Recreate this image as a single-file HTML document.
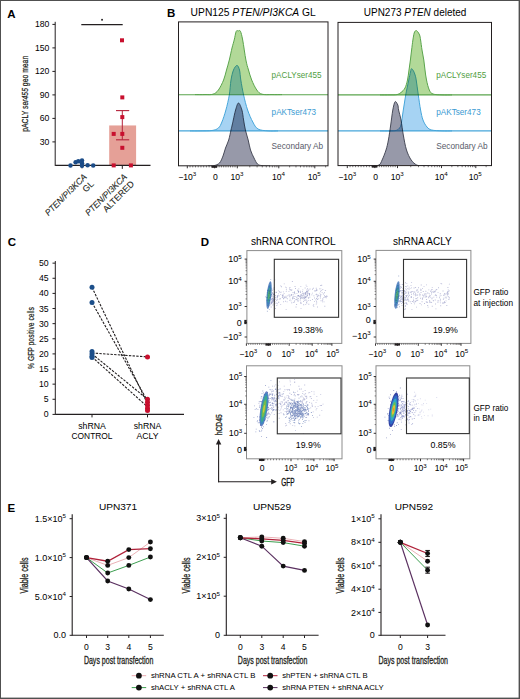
<!DOCTYPE html>
<html><head><meta charset="utf-8"><style>
html,body{margin:0;padding:0;background:#fff;}
svg{display:block;}
text{font-family:"Liberation Sans",sans-serif;}
</style></head><body>
<svg width="520" height="699" viewBox="0 0 520 699">
<rect width="520" height="699" fill="#fff"/>
<rect x="0" y="0" width="520" height="1" fill="#505050" />
<rect x="0" y="0" width="1" height="699" fill="#505050" />
<rect x="518.6" y="0" width="1.4" height="699" fill="#505050" />
<rect x="0" y="697.6" width="520" height="1.4" fill="#505050" />
<text x="7.3" y="17.6" font-size="11.5" font-weight="bold">A</text>
<line x1="55.2" y1="21.8" x2="55.2" y2="165.9" stroke="#231f20" stroke-width="1" />
<line x1="52.4" y1="141.9" x2="55.2" y2="141.9" stroke="#231f20" stroke-width="1" />
<text x="49.4" y="144.9" font-size="8.7" text-anchor="end">30</text>
<line x1="52.4" y1="118.4" x2="55.2" y2="118.4" stroke="#231f20" stroke-width="1" />
<text x="49.4" y="121.4" font-size="8.7" text-anchor="end">60</text>
<line x1="52.4" y1="94.9" x2="55.2" y2="94.9" stroke="#231f20" stroke-width="1" />
<text x="49.4" y="97.9" font-size="8.7" text-anchor="end">90</text>
<line x1="52.4" y1="71.4" x2="55.2" y2="71.4" stroke="#231f20" stroke-width="1" />
<text x="49.4" y="74.4" font-size="8.7" text-anchor="end">120</text>
<line x1="52.4" y1="47.9" x2="55.2" y2="47.9" stroke="#231f20" stroke-width="1" />
<text x="49.4" y="50.9" font-size="8.7" text-anchor="end">150</text>
<line x1="52.4" y1="24.4" x2="55.2" y2="24.4" stroke="#231f20" stroke-width="1" />
<text x="49.4" y="27.4" font-size="8.7" text-anchor="end">180</text>
<rect x="109.2" y="125.45" width="26.9" height="39.95" fill="#e5a097" />
<line x1="55.2" y1="165.4" x2="150.5" y2="165.4" stroke="#231f20" stroke-width="1.1" />
<line x1="82" y1="165.4" x2="82" y2="168.4" stroke="#231f20" stroke-width="1" />
<line x1="122.3" y1="165.4" x2="122.3" y2="168.9" stroke="#231f20" stroke-width="1" />
<line x1="81.3" y1="24.6" x2="122.7" y2="24.6" stroke="#231f20" stroke-width="1.1" />
<rect x="101.2" y="18.9" width="1.7" height="1.7" fill="#231f20" />
<line x1="122.3" y1="110.6" x2="122.3" y2="139.8" stroke="#b5223a" stroke-width="1" />
<line x1="116" y1="110.6" x2="129.2" y2="110.6" stroke="#b5223a" stroke-width="1.1" />
<line x1="116" y1="139.8" x2="129.2" y2="139.8" stroke="#b5223a" stroke-width="1.1" />
<rect x="120" y="38.3" width="4" height="4" fill="#c8102e" />
<rect x="120.3" y="95.4" width="4" height="4" fill="#c8102e" />
<rect x="120.3" y="115.1" width="4" height="4" fill="#c8102e" />
<rect x="111.7" y="131.9" width="4" height="4" fill="#c8102e" />
<rect x="120.3" y="131.9" width="4" height="4" fill="#c8102e" />
<rect x="120.3" y="145.8" width="4" height="4" fill="#c8102e" />
<rect x="111.7" y="163.4" width="4" height="4" fill="#c8102e" />
<rect x="128.9" y="163.4" width="4" height="4" fill="#c8102e" />
<circle cx="70.5" cy="165.6" r="2.25" fill="#1b4c88"/>
<circle cx="75.6" cy="162.2" r="2.25" fill="#1b4c88"/>
<circle cx="78.3" cy="161.3" r="2.25" fill="#1b4c88"/>
<circle cx="82" cy="160.6" r="2.25" fill="#1b4c88"/>
<circle cx="82" cy="163.3" r="2.25" fill="#1b4c88"/>
<circle cx="82" cy="165.8" r="2.25" fill="#1b4c88"/>
<circle cx="87.6" cy="165.2" r="2.25" fill="#1b4c88"/>
<circle cx="93.2" cy="165.6" r="2.25" fill="#1b4c88"/>
<text transform="translate(27.6,93.8) rotate(-90)" font-size="9.6" stroke="#231f20" stroke-width="0.25" text-anchor="middle" textLength="76" lengthAdjust="spacingAndGlyphs" fill="#231f20">pACLY <tspan font-style="italic">ser455</tspan> geo mean</text>
<g transform="translate(87.3,177.4) rotate(-45)"><text x="0" y="0" font-size="8.8" stroke="#231f20" stroke-width="0.12" text-anchor="end" font-style="italic" textLength="55" lengthAdjust="spacingAndGlyphs" fill="#231f20">PTEN/PI3KCA</text><text x="0" y="10" font-size="8.8" stroke="#231f20" stroke-width="0.12" text-anchor="end" fill="#231f20">GL</text></g>
<g transform="translate(127.6,177.4) rotate(-45)"><text x="0" y="0" font-size="8.8" stroke="#231f20" stroke-width="0.12" text-anchor="end" font-style="italic" textLength="55" lengthAdjust="spacingAndGlyphs" fill="#231f20">PTEN/PI3KCA</text><text x="0" y="10" font-size="8.8" stroke="#231f20" stroke-width="0.12" text-anchor="end" fill="#231f20">ALTERED</text></g>
<text x="166.9" y="17.3" font-size="11.5" font-weight="bold">B</text>
<text x="190.6" y="15.9" font-size="10.6" textLength="125.2" lengthAdjust="spacingAndGlyphs">UPN125 <tspan font-style="italic">PTEN/PI3KCA</tspan> GL</text>
<text x="363.8" y="15.9" font-size="10.6" textLength="102.5" lengthAdjust="spacingAndGlyphs">UPN273 <tspan font-style="italic">PTEN</tspan> deleted</text>
<clipPath id="cb0"><rect x="178.5" y="21.9" width="149.5" height="143.9"/></clipPath>
<g clip-path="url(#cb0)" style="isolation:isolate">
<g><path d="M195,94.6 C196.67,94.6 202,94.67 205,94.6 C208,94.53 210.77,94.97 213,94.2 C215.23,93.43 216.63,92.37 218.4,90 C220.17,87.63 222.25,83.33 223.6,80 C224.95,76.67 225.55,73.33 226.5,70 C227.45,66.67 228.38,63.67 229.3,60 C230.22,56.33 231.18,51.33 232,48 C232.82,44.67 233.5,42.77 234.2,40 C234.9,37.23 235.52,32.92 236.2,31.4 C236.88,29.88 237.6,30.93 238.3,30.9 C239,30.87 239.67,29.68 240.4,31.2 C241.13,32.72 241.78,35.2 242.7,40 C243.62,44.8 244.93,55 245.9,60 C246.87,65 247.53,66.67 248.5,70 C249.47,73.33 250.32,76.67 251.7,80 C253.08,83.33 255.08,87.63 256.8,90 C258.52,92.37 259.47,93.43 262,94.2 C264.53,94.97 268.67,94.53 272,94.6 C275.33,94.67 280.33,94.6 282,94.6 L282,94.7 L195,94.7 Z" fill="#b2d998" stroke="none"/><path d="M195,94.6 C196.67,94.6 202,94.67 205,94.6 C208,94.53 210.77,94.97 213,94.2 C215.23,93.43 216.63,92.37 218.4,90 C220.17,87.63 222.25,83.33 223.6,80 C224.95,76.67 225.55,73.33 226.5,70 C227.45,66.67 228.38,63.67 229.3,60 C230.22,56.33 231.18,51.33 232,48 C232.82,44.67 233.5,42.77 234.2,40 C234.9,37.23 235.52,32.92 236.2,31.4 C236.88,29.88 237.6,30.93 238.3,30.9 C239,30.87 239.67,29.68 240.4,31.2 C241.13,32.72 241.78,35.2 242.7,40 C243.62,44.8 244.93,55 245.9,60 C246.87,65 247.53,66.67 248.5,70 C249.47,73.33 250.32,76.67 251.7,80 C253.08,83.33 255.08,87.63 256.8,90 C258.52,92.37 259.47,93.43 262,94.2 C264.53,94.97 268.67,94.53 272,94.6 C275.33,94.67 280.33,94.6 282,94.6" fill="none" stroke="#5aa44c" stroke-width="1.0"/></g>
<line x1="178.5" y1="94.7" x2="328" y2="94.7" stroke="#5aa44c" stroke-width="1.1" />
<g style="mix-blend-mode:multiply"><path d="M190,130.9 C191.67,130.9 196.33,130.97 200,130.9 C203.67,130.83 208.93,130.98 212,130.5 C215.07,130.02 216.75,129.42 218.4,128 C220.05,126.58 220.65,125 221.9,122 C223.15,119 224.67,114.5 225.9,110 C227.13,105.5 228.45,100 229.3,95 C230.15,90 230.3,84.17 231,80 C231.7,75.83 232.5,72.43 233.5,70 C234.5,67.57 236,65.4 237,65.4 C238,65.4 238.87,67.57 239.5,70 C240.13,72.43 240.12,75.83 240.8,80 C241.48,84.17 242.47,90 243.6,95 C244.73,100 246.07,105.5 247.6,110 C249.13,114.5 251.07,118.83 252.8,122 C254.53,125.17 255.47,127.52 258,129 C260.53,130.48 264.67,130.58 268,130.9 C271.33,131.22 276.33,130.9 278,130.9 L278,130.9 L190,130.9 Z" fill="#a6d3f3" stroke="none"/><path d="M190,130.9 C191.67,130.9 196.33,130.97 200,130.9 C203.67,130.83 208.93,130.98 212,130.5 C215.07,130.02 216.75,129.42 218.4,128 C220.05,126.58 220.65,125 221.9,122 C223.15,119 224.67,114.5 225.9,110 C227.13,105.5 228.45,100 229.3,95 C230.15,90 230.3,84.17 231,80 C231.7,75.83 232.5,72.43 233.5,70 C234.5,67.57 236,65.4 237,65.4 C238,65.4 238.87,67.57 239.5,70 C240.13,72.43 240.12,75.83 240.8,80 C241.48,84.17 242.47,90 243.6,95 C244.73,100 246.07,105.5 247.6,110 C249.13,114.5 251.07,118.83 252.8,122 C254.53,125.17 255.47,127.52 258,129 C260.53,130.48 264.67,130.58 268,130.9 C271.33,131.22 276.33,130.9 278,130.9" fill="none" stroke="#46a6da" stroke-width="1.0"/></g>
<line x1="178.5" y1="130.9" x2="328" y2="130.9" stroke="#46a6da" stroke-width="1.1" />
<g style="mix-blend-mode:multiply"><path d="M208,165.8 C209,165.77 212.08,166.07 214,165.6 C215.92,165.13 218,164.6 219.5,163 C221,161.4 222,158.5 223,156 C224,153.5 224.55,150.67 225.5,148 C226.45,145.33 227.78,143 228.7,140 C229.62,137 230.42,132.5 231,130 C231.58,127.5 231.82,126.67 232.2,125 C232.58,123.33 232.73,122.5 233.3,120 C233.87,117.5 234.73,112.83 235.6,110 C236.47,107.17 237.45,103 238.5,103 C239.55,103 241.05,107.17 241.9,110 C242.75,112.83 243.02,116.67 243.6,120 C244.18,123.33 244.63,126.67 245.4,130 C246.17,133.33 247.35,136.67 248.2,140 C249.05,143.33 249.53,147 250.5,150 C251.47,153 252.83,155.67 254,158 C255.17,160.33 256.17,162.73 257.5,164 C258.83,165.27 259.92,165.3 262,165.6 C264.08,165.9 268.67,165.77 270,165.8 L270,165.8 L208,165.8 Z" fill="#9799a9" stroke="none"/><path d="M208,165.8 C209,165.77 212.08,166.07 214,165.6 C215.92,165.13 218,164.6 219.5,163 C221,161.4 222,158.5 223,156 C224,153.5 224.55,150.67 225.5,148 C226.45,145.33 227.78,143 228.7,140 C229.62,137 230.42,132.5 231,130 C231.58,127.5 231.82,126.67 232.2,125 C232.58,123.33 232.73,122.5 233.3,120 C233.87,117.5 234.73,112.83 235.6,110 C236.47,107.17 237.45,103 238.5,103 C239.55,103 241.05,107.17 241.9,110 C242.75,112.83 243.02,116.67 243.6,120 C244.18,123.33 244.63,126.67 245.4,130 C246.17,133.33 247.35,136.67 248.2,140 C249.05,143.33 249.53,147 250.5,150 C251.47,153 252.83,155.67 254,158 C255.17,160.33 256.17,162.73 257.5,164 C258.83,165.27 259.92,165.3 262,165.6 C264.08,165.9 268.67,165.77 270,165.8" fill="none" stroke="#3a3d4c" stroke-width="0.9"/></g>
</g>
<rect x="178.5" y="21.9" width="149.5" height="143.9" fill="none" stroke="#231f20" stroke-width="1" />
<text x="271.6" y="78.3" font-size="8.2" fill="#4f9e42" textLength="50" lengthAdjust="spacingAndGlyphs">pACLYser455</text>
<text x="271.6" y="115.3" font-size="8.2" fill="#3a9ad2" textLength="44.5" lengthAdjust="spacingAndGlyphs">pAKTser473</text>
<text x="271.6" y="148.6" font-size="8.2" fill="#585b6a" textLength="51.5" lengthAdjust="spacingAndGlyphs">Secondary Ab</text>
<line x1="187.3" y1="165.8" x2="187.3" y2="168.3" stroke="#231f20" stroke-width="0.9" />
<line x1="214.6" y1="165.8" x2="214.6" y2="168.3" stroke="#231f20" stroke-width="0.9" />
<line x1="237.3" y1="165.8" x2="237.3" y2="168.3" stroke="#231f20" stroke-width="0.9" />
<line x1="278.8" y1="165.8" x2="278.8" y2="168.3" stroke="#231f20" stroke-width="0.9" />
<line x1="314.8" y1="165.8" x2="314.8" y2="168.3" stroke="#231f20" stroke-width="0.9" />
<line x1="249.79" y1="165.8" x2="249.79" y2="167.4" stroke="#231f20" stroke-width="0.6" />
<line x1="289.64" y1="165.8" x2="289.64" y2="167.4" stroke="#231f20" stroke-width="0.6" />
<line x1="325.64" y1="165.8" x2="325.64" y2="167.4" stroke="#231f20" stroke-width="0.6" />
<line x1="257.1" y1="165.8" x2="257.1" y2="167.4" stroke="#231f20" stroke-width="0.6" />
<line x1="295.98" y1="165.8" x2="295.98" y2="167.4" stroke="#231f20" stroke-width="0.6" />
<line x1="262.29" y1="165.8" x2="262.29" y2="167.4" stroke="#231f20" stroke-width="0.6" />
<line x1="300.47" y1="165.8" x2="300.47" y2="167.4" stroke="#231f20" stroke-width="0.6" />
<line x1="266.31" y1="165.8" x2="266.31" y2="167.4" stroke="#231f20" stroke-width="0.6" />
<line x1="303.96" y1="165.8" x2="303.96" y2="167.4" stroke="#231f20" stroke-width="0.6" />
<line x1="269.59" y1="165.8" x2="269.59" y2="167.4" stroke="#231f20" stroke-width="0.6" />
<line x1="306.81" y1="165.8" x2="306.81" y2="167.4" stroke="#231f20" stroke-width="0.6" />
<line x1="272.37" y1="165.8" x2="272.37" y2="167.4" stroke="#231f20" stroke-width="0.6" />
<line x1="309.22" y1="165.8" x2="309.22" y2="167.4" stroke="#231f20" stroke-width="0.6" />
<line x1="274.78" y1="165.8" x2="274.78" y2="167.4" stroke="#231f20" stroke-width="0.6" />
<line x1="311.31" y1="165.8" x2="311.31" y2="167.4" stroke="#231f20" stroke-width="0.6" />
<line x1="276.9" y1="165.8" x2="276.9" y2="167.4" stroke="#231f20" stroke-width="0.6" />
<line x1="313.15" y1="165.8" x2="313.15" y2="167.4" stroke="#231f20" stroke-width="0.6" />
<line x1="190.03" y1="165.8" x2="190.03" y2="167.4" stroke="#231f20" stroke-width="0.6" />
<line x1="216.87" y1="165.8" x2="216.87" y2="167.4" stroke="#231f20" stroke-width="0.6" />
<line x1="192.76" y1="165.8" x2="192.76" y2="167.4" stroke="#231f20" stroke-width="0.6" />
<line x1="219.14" y1="165.8" x2="219.14" y2="167.4" stroke="#231f20" stroke-width="0.6" />
<line x1="195.49" y1="165.8" x2="195.49" y2="167.4" stroke="#231f20" stroke-width="0.6" />
<line x1="221.41" y1="165.8" x2="221.41" y2="167.4" stroke="#231f20" stroke-width="0.6" />
<line x1="198.22" y1="165.8" x2="198.22" y2="167.4" stroke="#231f20" stroke-width="0.6" />
<line x1="223.68" y1="165.8" x2="223.68" y2="167.4" stroke="#231f20" stroke-width="0.6" />
<line x1="200.95" y1="165.8" x2="200.95" y2="167.4" stroke="#231f20" stroke-width="0.6" />
<line x1="225.95" y1="165.8" x2="225.95" y2="167.4" stroke="#231f20" stroke-width="0.6" />
<line x1="203.68" y1="165.8" x2="203.68" y2="167.4" stroke="#231f20" stroke-width="0.6" />
<line x1="228.22" y1="165.8" x2="228.22" y2="167.4" stroke="#231f20" stroke-width="0.6" />
<line x1="206.41" y1="165.8" x2="206.41" y2="167.4" stroke="#231f20" stroke-width="0.6" />
<line x1="230.49" y1="165.8" x2="230.49" y2="167.4" stroke="#231f20" stroke-width="0.6" />
<line x1="209.14" y1="165.8" x2="209.14" y2="167.4" stroke="#231f20" stroke-width="0.6" />
<line x1="232.76" y1="165.8" x2="232.76" y2="167.4" stroke="#231f20" stroke-width="0.6" />
<line x1="211.87" y1="165.8" x2="211.87" y2="167.4" stroke="#231f20" stroke-width="0.6" />
<line x1="235.03" y1="165.8" x2="235.03" y2="167.4" stroke="#231f20" stroke-width="0.6" />
<rect x="211.6" y="165.8" width="5.5" height="2" fill="#231f20" />
<text x="187.3" y="179.7" font-size="8.6" text-anchor="middle">−10<tspan font-size="6.2" dy="-3.5">3</tspan></text>
<text x="215.4" y="179.7" font-size="8.6" text-anchor="middle">0</text>
<text x="237" y="179.7" font-size="8.6" text-anchor="middle">10<tspan font-size="6.2" dy="-3.5">3</tspan></text>
<text x="278.5" y="179.7" font-size="8.6" text-anchor="middle">10<tspan font-size="6.2" dy="-3.5">4</tspan></text>
<text x="314.3" y="179.7" font-size="8.6" text-anchor="middle">10<tspan font-size="6.2" dy="-3.5">5</tspan></text>
<clipPath id="cb1"><rect x="338" y="22.4" width="153.5" height="143.2"/></clipPath>
<g clip-path="url(#cb1)" style="isolation:isolate">
<g><path d="M380,94.9 C381.67,94.9 387.17,94.95 390,94.9 C392.83,94.85 395.17,95 397,94.6 C398.83,94.2 399.67,93.6 401,92.5 C402.33,91.4 403.92,90.08 405,88 C406.08,85.92 406.83,83 407.5,80 C408.17,77 408.52,73.33 409,70 C409.48,66.67 409.97,63.33 410.4,60 C410.83,56.67 411.18,53.33 411.6,50 C412.02,46.67 412.47,42.83 412.9,40 C413.33,37.17 413.72,34.57 414.2,33 C414.68,31.43 415.25,30.85 415.8,30.6 C416.35,30.35 416.87,30.77 417.5,31.5 C418.13,32.23 419.08,33.58 419.6,35 C420.12,36.42 420.2,37.5 420.6,40 C421,42.5 421.47,46.67 422,50 C422.53,53.33 423.3,56.67 423.8,60 C424.3,63.33 424.55,66.67 425,70 C425.45,73.33 425.78,76.67 426.5,80 C427.22,83.33 428.22,87.67 429.3,90 C430.38,92.33 430.88,93.18 433,94 C435.12,94.82 438.83,94.75 442,94.9 C445.17,95.05 450.33,94.9 452,94.9 L452,94.9 L380,94.9 Z" fill="#b2d998" stroke="none"/><path d="M380,94.9 C381.67,94.9 387.17,94.95 390,94.9 C392.83,94.85 395.17,95 397,94.6 C398.83,94.2 399.67,93.6 401,92.5 C402.33,91.4 403.92,90.08 405,88 C406.08,85.92 406.83,83 407.5,80 C408.17,77 408.52,73.33 409,70 C409.48,66.67 409.97,63.33 410.4,60 C410.83,56.67 411.18,53.33 411.6,50 C412.02,46.67 412.47,42.83 412.9,40 C413.33,37.17 413.72,34.57 414.2,33 C414.68,31.43 415.25,30.85 415.8,30.6 C416.35,30.35 416.87,30.77 417.5,31.5 C418.13,32.23 419.08,33.58 419.6,35 C420.12,36.42 420.2,37.5 420.6,40 C421,42.5 421.47,46.67 422,50 C422.53,53.33 423.3,56.67 423.8,60 C424.3,63.33 424.55,66.67 425,70 C425.45,73.33 425.78,76.67 426.5,80 C427.22,83.33 428.22,87.67 429.3,90 C430.38,92.33 430.88,93.18 433,94 C435.12,94.82 438.83,94.75 442,94.9 C445.17,95.05 450.33,94.9 452,94.9" fill="none" stroke="#5aa44c" stroke-width="1.0"/></g>
<line x1="338" y1="94.9" x2="491.5" y2="94.9" stroke="#5aa44c" stroke-width="1.1" />
<g style="mix-blend-mode:multiply"><path d="M380,130.9 C381.67,130.9 387.33,130.97 390,130.9 C392.67,130.83 394.5,130.9 396,130.5 C397.5,130.1 398.17,129.42 399,128.5 C399.83,127.58 400.28,128.08 401,125 C401.72,121.92 402.52,115 403.3,110 C404.08,105 404.78,100 405.7,95 C406.62,90 408,83.83 408.8,80 C409.6,76.17 410.05,73.88 410.5,72 C410.95,70.12 411,68.87 411.5,68.7 C412,68.53 412.9,69.95 413.5,71 C414.1,72.05 414.65,73.5 415.1,75 C415.55,76.5 415.67,76.67 416.2,80 C416.73,83.33 417.57,90 418.3,95 C419.03,100 419.82,105.83 420.6,110 C421.38,114.17 421.93,117.17 423,120 C424.07,122.83 425.55,125.33 427,127 C428.45,128.67 429.2,129.35 431.7,130 C434.2,130.65 438.62,130.75 442,130.9 C445.38,131.05 450.33,130.9 452,130.9 L452,130.9 L380,130.9 Z" fill="#a6d3f3" stroke="none"/><path d="M380,130.9 C381.67,130.9 387.33,130.97 390,130.9 C392.67,130.83 394.5,130.9 396,130.5 C397.5,130.1 398.17,129.42 399,128.5 C399.83,127.58 400.28,128.08 401,125 C401.72,121.92 402.52,115 403.3,110 C404.08,105 404.78,100 405.7,95 C406.62,90 408,83.83 408.8,80 C409.6,76.17 410.05,73.88 410.5,72 C410.95,70.12 411,68.87 411.5,68.7 C412,68.53 412.9,69.95 413.5,71 C414.1,72.05 414.65,73.5 415.1,75 C415.55,76.5 415.67,76.67 416.2,80 C416.73,83.33 417.57,90 418.3,95 C419.03,100 419.82,105.83 420.6,110 C421.38,114.17 421.93,117.17 423,120 C424.07,122.83 425.55,125.33 427,127 C428.45,128.67 429.2,129.35 431.7,130 C434.2,130.65 438.62,130.75 442,130.9 C445.38,131.05 450.33,130.9 452,130.9" fill="none" stroke="#46a6da" stroke-width="1.0"/></g>
<line x1="338" y1="130.9" x2="491.5" y2="130.9" stroke="#46a6da" stroke-width="1.1" />
<g style="mix-blend-mode:multiply"><path d="M365,165.8 C366.17,165.77 369.67,165.73 372,165.6 C374.33,165.47 377.32,165.93 379,165 C380.68,164.07 380.93,162.5 382.1,160 C383.27,157.5 384.95,153.33 386,150 C387.05,146.67 387.62,144.17 388.4,140 C389.18,135.83 389.97,130 390.7,125 C391.43,120 392.07,113.88 392.8,110 C393.53,106.12 394.27,102.53 395.1,101.7 C395.93,100.87 397.22,103.62 397.8,105 C398.38,106.38 398.07,107.5 398.6,110 C399.13,112.5 400.22,115.83 401,120 C401.78,124.17 402.38,130 403.3,135 C404.22,140 405.18,145.83 406.5,150 C407.82,154.17 409.5,157.5 411.2,160 C412.9,162.5 414.9,164.07 416.7,165 C418.5,165.93 419.78,165.47 422,165.6 C424.22,165.73 428.67,165.77 430,165.8 L430,165.6 L365,165.6 Z" fill="#9799a9" stroke="none"/><path d="M365,165.8 C366.17,165.77 369.67,165.73 372,165.6 C374.33,165.47 377.32,165.93 379,165 C380.68,164.07 380.93,162.5 382.1,160 C383.27,157.5 384.95,153.33 386,150 C387.05,146.67 387.62,144.17 388.4,140 C389.18,135.83 389.97,130 390.7,125 C391.43,120 392.07,113.88 392.8,110 C393.53,106.12 394.27,102.53 395.1,101.7 C395.93,100.87 397.22,103.62 397.8,105 C398.38,106.38 398.07,107.5 398.6,110 C399.13,112.5 400.22,115.83 401,120 C401.78,124.17 402.38,130 403.3,135 C404.22,140 405.18,145.83 406.5,150 C407.82,154.17 409.5,157.5 411.2,160 C412.9,162.5 414.9,164.07 416.7,165 C418.5,165.93 419.78,165.47 422,165.6 C424.22,165.73 428.67,165.77 430,165.8" fill="none" stroke="#3a3d4c" stroke-width="0.9"/></g>
</g>
<rect x="338" y="22.4" width="153.5" height="143.2" fill="none" stroke="#231f20" stroke-width="1" />
<text x="436.2" y="78.3" font-size="8.2" fill="#4f9e42" textLength="50" lengthAdjust="spacingAndGlyphs">pACLYser455</text>
<text x="436.2" y="115.3" font-size="8.2" fill="#3a9ad2" textLength="44.5" lengthAdjust="spacingAndGlyphs">pAKTser473</text>
<text x="436.2" y="148.6" font-size="8.2" fill="#585b6a" textLength="51.5" lengthAdjust="spacingAndGlyphs">Secondary Ab</text>
<line x1="347.3" y1="165.6" x2="347.3" y2="168.1" stroke="#231f20" stroke-width="0.9" />
<line x1="374.8" y1="165.6" x2="374.8" y2="168.1" stroke="#231f20" stroke-width="0.9" />
<line x1="397.5" y1="165.6" x2="397.5" y2="168.1" stroke="#231f20" stroke-width="0.9" />
<line x1="441.5" y1="165.6" x2="441.5" y2="168.1" stroke="#231f20" stroke-width="0.9" />
<line x1="475.8" y1="165.6" x2="475.8" y2="168.1" stroke="#231f20" stroke-width="0.9" />
<line x1="410.75" y1="165.6" x2="410.75" y2="167.2" stroke="#231f20" stroke-width="0.6" />
<line x1="451.83" y1="165.6" x2="451.83" y2="167.2" stroke="#231f20" stroke-width="0.6" />
<line x1="486.13" y1="165.6" x2="486.13" y2="167.2" stroke="#231f20" stroke-width="0.6" />
<line x1="418.49" y1="165.6" x2="418.49" y2="167.2" stroke="#231f20" stroke-width="0.6" />
<line x1="457.87" y1="165.6" x2="457.87" y2="167.2" stroke="#231f20" stroke-width="0.6" />
<line x1="423.99" y1="165.6" x2="423.99" y2="167.2" stroke="#231f20" stroke-width="0.6" />
<line x1="462.15" y1="165.6" x2="462.15" y2="167.2" stroke="#231f20" stroke-width="0.6" />
<line x1="428.25" y1="165.6" x2="428.25" y2="167.2" stroke="#231f20" stroke-width="0.6" />
<line x1="465.47" y1="165.6" x2="465.47" y2="167.2" stroke="#231f20" stroke-width="0.6" />
<line x1="431.74" y1="165.6" x2="431.74" y2="167.2" stroke="#231f20" stroke-width="0.6" />
<line x1="468.19" y1="165.6" x2="468.19" y2="167.2" stroke="#231f20" stroke-width="0.6" />
<line x1="434.68" y1="165.6" x2="434.68" y2="167.2" stroke="#231f20" stroke-width="0.6" />
<line x1="470.49" y1="165.6" x2="470.49" y2="167.2" stroke="#231f20" stroke-width="0.6" />
<line x1="437.24" y1="165.6" x2="437.24" y2="167.2" stroke="#231f20" stroke-width="0.6" />
<line x1="472.48" y1="165.6" x2="472.48" y2="167.2" stroke="#231f20" stroke-width="0.6" />
<line x1="439.49" y1="165.6" x2="439.49" y2="167.2" stroke="#231f20" stroke-width="0.6" />
<line x1="474.23" y1="165.6" x2="474.23" y2="167.2" stroke="#231f20" stroke-width="0.6" />
<line x1="350.05" y1="165.6" x2="350.05" y2="167.2" stroke="#231f20" stroke-width="0.6" />
<line x1="377.07" y1="165.6" x2="377.07" y2="167.2" stroke="#231f20" stroke-width="0.6" />
<line x1="352.8" y1="165.6" x2="352.8" y2="167.2" stroke="#231f20" stroke-width="0.6" />
<line x1="379.34" y1="165.6" x2="379.34" y2="167.2" stroke="#231f20" stroke-width="0.6" />
<line x1="355.55" y1="165.6" x2="355.55" y2="167.2" stroke="#231f20" stroke-width="0.6" />
<line x1="381.61" y1="165.6" x2="381.61" y2="167.2" stroke="#231f20" stroke-width="0.6" />
<line x1="358.3" y1="165.6" x2="358.3" y2="167.2" stroke="#231f20" stroke-width="0.6" />
<line x1="383.88" y1="165.6" x2="383.88" y2="167.2" stroke="#231f20" stroke-width="0.6" />
<line x1="361.05" y1="165.6" x2="361.05" y2="167.2" stroke="#231f20" stroke-width="0.6" />
<line x1="386.15" y1="165.6" x2="386.15" y2="167.2" stroke="#231f20" stroke-width="0.6" />
<line x1="363.8" y1="165.6" x2="363.8" y2="167.2" stroke="#231f20" stroke-width="0.6" />
<line x1="388.42" y1="165.6" x2="388.42" y2="167.2" stroke="#231f20" stroke-width="0.6" />
<line x1="366.55" y1="165.6" x2="366.55" y2="167.2" stroke="#231f20" stroke-width="0.6" />
<line x1="390.69" y1="165.6" x2="390.69" y2="167.2" stroke="#231f20" stroke-width="0.6" />
<line x1="369.3" y1="165.6" x2="369.3" y2="167.2" stroke="#231f20" stroke-width="0.6" />
<line x1="392.96" y1="165.6" x2="392.96" y2="167.2" stroke="#231f20" stroke-width="0.6" />
<line x1="372.05" y1="165.6" x2="372.05" y2="167.2" stroke="#231f20" stroke-width="0.6" />
<line x1="395.23" y1="165.6" x2="395.23" y2="167.2" stroke="#231f20" stroke-width="0.6" />
<rect x="371.8" y="165.6" width="5.5" height="2" fill="#231f20" />
<text x="347.3" y="179.7" font-size="8.6" text-anchor="middle">−10<tspan font-size="6.2" dy="-3.5">3</tspan></text>
<text x="375.6" y="179.7" font-size="8.6" text-anchor="middle">0</text>
<text x="397.2" y="179.7" font-size="8.6" text-anchor="middle">10<tspan font-size="6.2" dy="-3.5">3</tspan></text>
<text x="441.2" y="179.7" font-size="8.6" text-anchor="middle">10<tspan font-size="6.2" dy="-3.5">4</tspan></text>
<text x="475.3" y="179.7" font-size="8.6" text-anchor="middle">10<tspan font-size="6.2" dy="-3.5">5</tspan></text>
<text x="7.7" y="246.3" font-size="11.5" font-weight="bold">C</text>
<line x1="55.3" y1="261" x2="55.3" y2="414.9" stroke="#231f20" stroke-width="1" />
<line x1="52.5" y1="414.4" x2="55.3" y2="414.4" stroke="#231f20" stroke-width="1" />
<text x="48.6" y="417.4" font-size="8.7" text-anchor="end">0</text>
<line x1="52.5" y1="399.27" x2="55.3" y2="399.27" stroke="#231f20" stroke-width="1" />
<text x="48.6" y="402.27" font-size="8.7" text-anchor="end">5</text>
<line x1="52.5" y1="384.15" x2="55.3" y2="384.15" stroke="#231f20" stroke-width="1" />
<text x="48.6" y="387.15" font-size="8.7" text-anchor="end">10</text>
<line x1="52.5" y1="369.02" x2="55.3" y2="369.02" stroke="#231f20" stroke-width="1" />
<text x="48.6" y="372.02" font-size="8.7" text-anchor="end">15</text>
<line x1="52.5" y1="353.9" x2="55.3" y2="353.9" stroke="#231f20" stroke-width="1" />
<text x="48.6" y="356.9" font-size="8.7" text-anchor="end">20</text>
<line x1="52.5" y1="338.77" x2="55.3" y2="338.77" stroke="#231f20" stroke-width="1" />
<text x="48.6" y="341.77" font-size="8.7" text-anchor="end">25</text>
<line x1="52.5" y1="323.65" x2="55.3" y2="323.65" stroke="#231f20" stroke-width="1" />
<text x="48.6" y="326.65" font-size="8.7" text-anchor="end">30</text>
<line x1="52.5" y1="308.52" x2="55.3" y2="308.52" stroke="#231f20" stroke-width="1" />
<text x="48.6" y="311.52" font-size="8.7" text-anchor="end">35</text>
<line x1="52.5" y1="293.4" x2="55.3" y2="293.4" stroke="#231f20" stroke-width="1" />
<text x="48.6" y="296.4" font-size="8.7" text-anchor="end">40</text>
<line x1="52.5" y1="278.27" x2="55.3" y2="278.27" stroke="#231f20" stroke-width="1" />
<text x="48.6" y="281.27" font-size="8.7" text-anchor="end">45</text>
<line x1="52.5" y1="263.15" x2="55.3" y2="263.15" stroke="#231f20" stroke-width="1" />
<text x="48.6" y="266.15" font-size="8.7" text-anchor="end">50</text>
<line x1="55.3" y1="414.4" x2="184" y2="414.4" stroke="#231f20" stroke-width="1.1" />
<line x1="92" y1="414.4" x2="92" y2="417.4" stroke="#231f20" stroke-width="1" />
<line x1="147.5" y1="414.4" x2="147.5" y2="417.4" stroke="#231f20" stroke-width="1" />
<line x1="92" y1="287.35" x2="147.5" y2="403.81" stroke="#231f20" stroke-width="1.1" stroke-dasharray="2.4,1.3"/>
<line x1="92" y1="302.47" x2="147.5" y2="400.79" stroke="#231f20" stroke-width="1.1" stroke-dasharray="2.4,1.3"/>
<line x1="92" y1="352.99" x2="147.5" y2="356.92" stroke="#231f20" stroke-width="1.1" stroke-dasharray="2.4,1.3"/>
<line x1="92" y1="353.9" x2="147.5" y2="399.27" stroke="#231f20" stroke-width="1.1" stroke-dasharray="2.4,1.3"/>
<line x1="92" y1="356.92" x2="147.5" y2="406.84" stroke="#231f20" stroke-width="1.1" stroke-dasharray="2.4,1.3"/>
<circle cx="92" cy="287.35" r="2.5" fill="#1c4f8a"/>
<circle cx="92" cy="302.47" r="2.5" fill="#1c4f8a"/>
<circle cx="92" cy="351.48" r="2.5" fill="#1c4f8a"/>
<circle cx="92" cy="353.9" r="2.5" fill="#1c4f8a"/>
<circle cx="92" cy="356.32" r="2.5" fill="#1c4f8a"/>
<circle cx="92" cy="357.53" r="2.5" fill="#1c4f8a"/>
<circle cx="147.5" cy="356.92" r="2.5" fill="#c8102e"/>
<circle cx="147.5" cy="399.27" r="2.5" fill="#c8102e"/>
<circle cx="147.5" cy="402.3" r="2.5" fill="#c8102e"/>
<circle cx="147.5" cy="405.32" r="2.5" fill="#c8102e"/>
<circle cx="147.5" cy="408.35" r="2.5" fill="#c8102e"/>
<circle cx="147.5" cy="410.47" r="2.5" fill="#c8102e"/>
<text x="92" y="429" font-size="8.7" text-anchor="middle">shRNA</text>
<text x="92" y="439" font-size="8.7" text-anchor="middle" textLength="41" lengthAdjust="spacingAndGlyphs">CONTROL</text>
<text x="147.5" y="429" font-size="8.7" text-anchor="middle">shRNA</text>
<text x="147.5" y="439" font-size="8.7" text-anchor="middle">ACLY</text>
<text transform="translate(33.6,338) rotate(-90)" font-size="9.8" stroke="#231f20" stroke-width="0.22" text-anchor="middle" textLength="62" lengthAdjust="spacingAndGlyphs" fill="#231f20">% GFP positive cells</text>
<text x="200.8" y="246.3" font-size="11.5" font-weight="bold">D</text>
<text x="251" y="244.9" font-size="10.5" textLength="84.6" lengthAdjust="spacingAndGlyphs">shRNA CONTROL</text>
<text x="392.9" y="244.9" font-size="10.6" textLength="58.8" lengthAdjust="spacingAndGlyphs">shRNA ACLY</text>
<path d="M306.4 291.9h0.85v0.85h-0.85zM321.3 290.0h0.85v0.85h-0.85zM314.7 290.6h0.85v0.85h-0.85zM284.4 296.6h0.85v0.85h-0.85zM288.5 291.2h0.85v0.85h-0.85zM320.0 297.5h0.85v0.85h-0.85zM272.3 297.4h0.85v0.85h-0.85zM317.2 306.6h0.85v0.85h-0.85zM315.8 287.8h0.85v0.85h-0.85zM297.7 300.4h0.85v0.85h-0.85zM288.7 295.0h0.85v0.85h-0.85zM287.3 295.4h0.85v0.85h-0.85zM286.0 287.5h0.85v0.85h-0.85zM296.5 293.0h0.85v0.85h-0.85zM299.8 299.6h0.85v0.85h-0.85zM302.4 295.0h0.85v0.85h-0.85zM326.8 295.9h0.85v0.85h-0.85zM315.6 293.9h0.85v0.85h-0.85zM306.2 301.9h0.85v0.85h-0.85zM326.4 295.4h0.85v0.85h-0.85zM283.8 283.4h0.85v0.85h-0.85zM280.8 291.7h0.85v0.85h-0.85zM305.7 284.7h0.85v0.85h-0.85zM274.4 279.5h0.85v0.85h-0.85zM274.0 292.6h0.85v0.85h-0.85zM300.3 302.8h0.85v0.85h-0.85zM297.6 295.8h0.85v0.85h-0.85zM322.4 289.1h0.85v0.85h-0.85zM306.6 290.3h0.85v0.85h-0.85zM300.3 301.7h0.85v0.85h-0.85zM299.3 296.4h0.85v0.85h-0.85zM285.6 295.8h0.85v0.85h-0.85zM272.6 295.2h0.85v0.85h-0.85zM282.6 295.7h0.85v0.85h-0.85zM310.1 299.9h0.85v0.85h-0.85zM283.0 298.5h0.85v0.85h-0.85zM292.3 296.7h0.85v0.85h-0.85zM272.2 289.8h0.85v0.85h-0.85zM317.7 298.3h0.85v0.85h-0.85zM280.5 291.7h0.85v0.85h-0.85zM286.7 301.5h0.85v0.85h-0.85zM320.4 288.5h0.85v0.85h-0.85zM300.0 294.7h0.85v0.85h-0.85zM318.6 295.5h0.85v0.85h-0.85zM307.2 288.2h0.85v0.85h-0.85zM312.8 305.0h0.85v0.85h-0.85zM277.0 303.5h0.85v0.85h-0.85zM301.8 293.0h0.85v0.85h-0.85zM299.9 299.7h0.85v0.85h-0.85zM319.9 297.6h0.85v0.85h-0.85zM291.9 281.1h0.85v0.85h-0.85zM304.9 296.9h0.85v0.85h-0.85zM275.3 295.2h0.85v0.85h-0.85zM293.3 296.0h0.85v0.85h-0.85zM289.8 289.6h0.85v0.85h-0.85zM280.3 294.0h0.85v0.85h-0.85zM316.9 294.5h0.85v0.85h-0.85zM292.9 302.0h0.85v0.85h-0.85zM325.8 297.3h0.85v0.85h-0.85zM304.4 295.5h0.85v0.85h-0.85zM305.3 303.9h0.85v0.85h-0.85zM307.1 292.4h0.85v0.85h-0.85zM309.2 293.4h0.85v0.85h-0.85zM280.3 285.5h0.85v0.85h-0.85zM296.2 304.1h0.85v0.85h-0.85zM285.2 300.8h0.85v0.85h-0.85zM294.1 300.5h0.85v0.85h-0.85zM277.3 299.2h0.85v0.85h-0.85zM325.2 296.1h0.85v0.85h-0.85zM283.8 296.7h0.85v0.85h-0.85zM308.9 294.1h0.85v0.85h-0.85zM288.5 294.4h0.85v0.85h-0.85zM320.1 295.8h0.85v0.85h-0.85zM308.4 303.8h0.85v0.85h-0.85zM279.2 298.6h0.85v0.85h-0.85zM318.5 295.2h0.85v0.85h-0.85zM324.0 292.3h0.85v0.85h-0.85zM321.7 292.0h0.85v0.85h-0.85zM303.3 304.3h0.85v0.85h-0.85zM280.0 298.3h0.85v0.85h-0.85zM282.6 295.9h0.85v0.85h-0.85zM323.0 293.6h0.85v0.85h-0.85zM302.4 289.4h0.85v0.85h-0.85zM281.9 295.1h0.85v0.85h-0.85zM320.6 300.3h0.85v0.85h-0.85zM307.3 293.3h0.85v0.85h-0.85zM303.3 294.3h0.85v0.85h-0.85zM292.7 294.3h0.85v0.85h-0.85zM294.6 296.1h0.85v0.85h-0.85zM285.2 286.7h0.85v0.85h-0.85zM274.1 294.2h0.85v0.85h-0.85zM320.2 290.8h0.85v0.85h-0.85zM297.7 300.4h0.85v0.85h-0.85zM302.1 291.3h0.85v0.85h-0.85zM289.7 298.7h0.85v0.85h-0.85zM313.3 303.9h0.85v0.85h-0.85zM273.4 293.8h0.85v0.85h-0.85zM292.5 292.2h0.85v0.85h-0.85zM273.7 296.6h0.85v0.85h-0.85zM278.8 295.5h0.85v0.85h-0.85zM325.2 290.0h0.85v0.85h-0.85zM308.2 298.0h0.85v0.85h-0.85zM295.6 306.6h0.85v0.85h-0.85zM300.8 294.1h0.85v0.85h-0.85zM320.0 294.4h0.85v0.85h-0.85zM290.9 289.8h0.85v0.85h-0.85zM304.5 297.3h0.85v0.85h-0.85zM309.6 288.6h0.85v0.85h-0.85zM291.5 289.4h0.85v0.85h-0.85zM300.6 302.5h0.85v0.85h-0.85zM314.1 290.5h0.85v0.85h-0.85zM322.0 301.4h0.85v0.85h-0.85zM280.3 303.9h0.85v0.85h-0.85zM323.3 296.9h0.85v0.85h-0.85zM272.3 298.5h0.85v0.85h-0.85zM313.4 306.2h0.85v0.85h-0.85zM316.6 294.4h0.85v0.85h-0.85zM279.5 292.2h0.85v0.85h-0.85zM295.0 288.1h0.85v0.85h-0.85zM316.8 295.7h0.85v0.85h-0.85zM272.8 303.6h0.85v0.85h-0.85zM306.6 300.8h0.85v0.85h-0.85zM315.6 290.3h0.85v0.85h-0.85zM300.2 290.8h0.85v0.85h-0.85zM311.9 292.7h0.85v0.85h-0.85zM284.5 297.1h0.85v0.85h-0.85zM282.9 294.4h0.85v0.85h-0.85zM292.0 296.7h0.85v0.85h-0.85zM281.9 297.1h0.85v0.85h-0.85zM291.0 293.9h0.85v0.85h-0.85zM324.1 295.3h0.85v0.85h-0.85zM303.5 296.6h0.85v0.85h-0.85zM290.7 295.0h0.85v0.85h-0.85zM286.9 298.3h0.85v0.85h-0.85zM324.4 305.8h0.85v0.85h-0.85zM296.4 298.8h0.85v0.85h-0.85zM325.9 295.8h0.85v0.85h-0.85zM300.4 286.2h0.85v0.85h-0.85zM300.7 297.6h0.85v0.85h-0.85zM321.3 284.8h0.85v0.85h-0.85zM312.9 287.8h0.85v0.85h-0.85zM303.9 300.2h0.85v0.85h-0.85zM295.5 299.4h0.85v0.85h-0.85zM320.3 294.7h0.85v0.85h-0.85zM294.6 286.1h0.85v0.85h-0.85zM322.8 293.5h0.85v0.85h-0.85zM275.8 291.8h0.85v0.85h-0.85zM295.6 299.0h0.85v0.85h-0.85zM300.6 307.9h0.85v0.85h-0.85zM324.3 296.7h0.85v0.85h-0.85zM285.8 291.2h0.85v0.85h-0.85zM316.3 289.1h0.85v0.85h-0.85zM309.2 295.2h0.85v0.85h-0.85zM311.4 294.5h0.85v0.85h-0.85zM306.6 289.2h0.85v0.85h-0.85zM325.4 296.1h0.85v0.85h-0.85zM290.3 289.2h0.85v0.85h-0.85zM293.9 301.6h0.85v0.85h-0.85zM283.2 301.3h0.85v0.85h-0.85zM274.8 301.5h0.85v0.85h-0.85zM283.7 292.9h0.85v0.85h-0.85zM322.4 298.3h0.85v0.85h-0.85zM318.2 294.8h0.85v0.85h-0.85zM278.2 293.4h0.85v0.85h-0.85zM305.2 293.6h0.85v0.85h-0.85zM298.4 288.4h0.85v0.85h-0.85zM304.7 287.6h0.85v0.85h-0.85zM308.3 299.9h0.85v0.85h-0.85zM288.9 294.4h0.85v0.85h-0.85zM324.9 296.7h0.85v0.85h-0.85zM297.6 301.0h0.85v0.85h-0.85zM306.5 286.0h0.85v0.85h-0.85zM306.9 291.2h0.85v0.85h-0.85zM282.1 296.5h0.85v0.85h-0.85zM275.4 297.7h0.85v0.85h-0.85zM294.6 293.4h0.85v0.85h-0.85zM314.0 301.2h0.85v0.85h-0.85zM316.8 296.7h0.85v0.85h-0.85zM312.1 288.8h0.85v0.85h-0.85zM278.2 290.4h0.85v0.85h-0.85zM322.2 299.9h0.85v0.85h-0.85zM316.1 298.1h0.85v0.85h-0.85zM320.3 285.1h0.85v0.85h-0.85zM300.8 302.9h0.85v0.85h-0.85zM322.4 298.8h0.85v0.85h-0.85zM274.6 302.9h0.85v0.85h-0.85zM273.7 293.4h0.85v0.85h-0.85zM273.1 293.9h0.85v0.85h-0.85zM285.9 289.3h0.85v0.85h-0.85zM285.7 309.0h0.85v0.85h-0.85zM282.3 294.5h0.85v0.85h-0.85zM303.2 304.2h0.85v0.85h-0.85zM274.1 291.9h0.85v0.85h-0.85zM304.5 296.4h0.85v0.85h-0.85zM281.1 286.3h0.85v0.85h-0.85zM309.3 293.4h0.85v0.85h-0.85zM273.2 300.9h0.85v0.85h-0.85zM289.1 288.6h0.85v0.85h-0.85zM323.6 301.4h0.85v0.85h-0.85zM301.6 297.4h0.85v0.85h-0.85zM316.6 289.8h0.85v0.85h-0.85zM308.2 292.7h0.85v0.85h-0.85zM305.6 293.0h0.85v0.85h-0.85zM282.5 295.2h0.85v0.85h-0.85zM303.6 292.6h0.85v0.85h-0.85zM274.2 290.9h0.85v0.85h-0.85zM316.1 293.8h0.85v0.85h-0.85zM324.8 289.9h0.85v0.85h-0.85zM319.0 288.4h0.85v0.85h-0.85zM274.8 295.2h0.85v0.85h-0.85zM290.6 300.4h0.85v0.85h-0.85zM289.5 287.1h0.85v0.85h-0.85zM278.2 295.5h0.85v0.85h-0.85zM306.5 291.9h0.85v0.85h-0.85zM315.9 290.1h0.85v0.85h-0.85zM289.3 300.2h0.85v0.85h-0.85zM319.5 292.7h0.85v0.85h-0.85zM315.8 303.7h0.85v0.85h-0.85zM279.1 291.2h0.85v0.85h-0.85zM314.2 297.6h0.85v0.85h-0.85zM320.5 294.2h0.85v0.85h-0.85zM282.9 291.4h0.85v0.85h-0.85zM303.6 298.7h0.85v0.85h-0.85zM307.1 294.6h0.85v0.85h-0.85zM305.5 298.8h0.85v0.85h-0.85zM277.3 295.2h0.85v0.85h-0.85zM308.4 289.5h0.85v0.85h-0.85zM306.8 294.9h0.85v0.85h-0.85zM317.3 295.8h0.85v0.85h-0.85zM316.2 300.8h0.85v0.85h-0.85z" fill="#4a4f9c" fill-opacity="0.42"/>
<path d="M298.7 295.9h0.85v0.85h-0.85zM292.2 298.3h0.85v0.85h-0.85zM297.3 289.7h0.85v0.85h-0.85zM305.5 299.9h0.85v0.85h-0.85zM293.8 292.2h0.85v0.85h-0.85zM300.1 292.0h0.85v0.85h-0.85zM309.0 293.2h0.85v0.85h-0.85zM300.2 298.0h0.85v0.85h-0.85zM300.0 297.5h0.85v0.85h-0.85zM298.2 291.8h0.85v0.85h-0.85zM291.3 302.5h0.85v0.85h-0.85zM303.4 296.9h0.85v0.85h-0.85zM305.8 296.6h0.85v0.85h-0.85zM306.4 302.7h0.85v0.85h-0.85zM297.7 290.5h0.85v0.85h-0.85zM297.9 291.3h0.85v0.85h-0.85zM312.0 298.9h0.85v0.85h-0.85zM298.3 291.1h0.85v0.85h-0.85zM303.2 300.9h0.85v0.85h-0.85zM283.4 297.8h0.85v0.85h-0.85zM297.4 299.6h0.85v0.85h-0.85zM297.4 295.0h0.85v0.85h-0.85zM293.9 292.6h0.85v0.85h-0.85zM317.1 298.9h0.85v0.85h-0.85zM302.8 293.0h0.85v0.85h-0.85zM290.8 294.6h0.85v0.85h-0.85zM305.8 295.7h0.85v0.85h-0.85zM305.2 292.1h0.85v0.85h-0.85zM305.5 295.9h0.85v0.85h-0.85zM316.3 302.5h0.85v0.85h-0.85zM304.9 293.3h0.85v0.85h-0.85zM305.5 293.9h0.85v0.85h-0.85zM300.1 295.8h0.85v0.85h-0.85zM297.7 298.1h0.85v0.85h-0.85zM305.2 296.9h0.85v0.85h-0.85zM304.5 293.5h0.85v0.85h-0.85zM298.4 295.2h0.85v0.85h-0.85zM301.6 296.8h0.85v0.85h-0.85zM306.0 291.2h0.85v0.85h-0.85zM306.5 291.3h0.85v0.85h-0.85zM301.1 295.0h0.85v0.85h-0.85zM289.4 296.3h0.85v0.85h-0.85zM307.2 295.4h0.85v0.85h-0.85zM302.6 294.7h0.85v0.85h-0.85zM298.2 295.1h0.85v0.85h-0.85zM301.6 296.3h0.85v0.85h-0.85zM296.4 296.8h0.85v0.85h-0.85zM307.1 295.5h0.85v0.85h-0.85zM302.5 297.9h0.85v0.85h-0.85zM292.7 297.6h0.85v0.85h-0.85zM307.9 297.0h0.85v0.85h-0.85zM309.1 293.7h0.85v0.85h-0.85zM303.9 298.2h0.85v0.85h-0.85zM309.4 296.7h0.85v0.85h-0.85zM293.9 297.9h0.85v0.85h-0.85zM315.4 299.5h0.85v0.85h-0.85zM307.9 290.5h0.85v0.85h-0.85zM313.5 295.5h0.85v0.85h-0.85zM285.7 297.3h0.85v0.85h-0.85zM294.1 291.5h0.85v0.85h-0.85z" fill="#3f4a98" fill-opacity="0.5"/>
<path d="M270.4 303.4h0.85v0.85h-0.85zM271.1 298.4h0.85v0.85h-0.85zM276.4 305.0h0.85v0.85h-0.85zM271.7 295.8h0.85v0.85h-0.85zM268.8 293.5h0.85v0.85h-0.85zM273.1 299.0h0.85v0.85h-0.85zM272.3 302.0h0.85v0.85h-0.85zM270.1 296.7h0.85v0.85h-0.85zM273.8 299.9h0.85v0.85h-0.85zM274.7 299.0h0.85v0.85h-0.85zM271.2 298.8h0.85v0.85h-0.85zM269.5 288.8h0.85v0.85h-0.85zM273.5 296.7h0.85v0.85h-0.85zM272.8 288.5h0.85v0.85h-0.85zM271.1 294.0h0.85v0.85h-0.85zM269.8 285.7h0.85v0.85h-0.85zM271.2 301.5h0.85v0.85h-0.85zM273.0 294.0h0.85v0.85h-0.85zM272.0 300.8h0.85v0.85h-0.85zM265.1 296.4h0.85v0.85h-0.85zM273.4 300.4h0.85v0.85h-0.85zM276.3 302.7h0.85v0.85h-0.85zM272.8 298.5h0.85v0.85h-0.85zM274.0 294.3h0.85v0.85h-0.85zM271.9 301.5h0.85v0.85h-0.85zM276.9 296.2h0.85v0.85h-0.85zM271.9 298.0h0.85v0.85h-0.85zM275.4 296.8h0.85v0.85h-0.85zM275.7 292.2h0.85v0.85h-0.85zM271.5 296.0h0.85v0.85h-0.85zM274.0 302.2h0.85v0.85h-0.85zM268.2 292.4h0.85v0.85h-0.85zM272.8 293.7h0.85v0.85h-0.85zM268.2 302.2h0.85v0.85h-0.85zM273.2 299.5h0.85v0.85h-0.85zM270.8 302.1h0.85v0.85h-0.85zM271.4 302.5h0.85v0.85h-0.85zM269.7 292.7h0.85v0.85h-0.85zM272.5 293.5h0.85v0.85h-0.85zM273.7 298.3h0.85v0.85h-0.85zM269.7 297.4h0.85v0.85h-0.85zM271.1 301.6h0.85v0.85h-0.85zM270.4 294.8h0.85v0.85h-0.85zM275.0 308.2h0.85v0.85h-0.85zM277.0 297.3h0.85v0.85h-0.85zM272.5 304.7h0.85v0.85h-0.85zM271.7 292.1h0.85v0.85h-0.85zM272.3 299.3h0.85v0.85h-0.85zM269.9 288.8h0.85v0.85h-0.85zM268.4 300.3h0.85v0.85h-0.85zM270.1 296.3h0.85v0.85h-0.85zM272.5 300.1h0.85v0.85h-0.85zM271.2 299.5h0.85v0.85h-0.85zM269.8 295.2h0.85v0.85h-0.85zM269.4 302.7h0.85v0.85h-0.85zM271.9 293.3h0.85v0.85h-0.85zM271.1 295.9h0.85v0.85h-0.85zM273.8 289.0h0.85v0.85h-0.85zM269.4 295.1h0.85v0.85h-0.85zM278.3 301.8h0.85v0.85h-0.85zM271.7 300.6h0.85v0.85h-0.85zM277.1 295.8h0.85v0.85h-0.85zM271.1 303.1h0.85v0.85h-0.85zM273.2 300.4h0.85v0.85h-0.85zM270.7 306.6h0.85v0.85h-0.85zM276.3 299.8h0.85v0.85h-0.85zM273.7 286.9h0.85v0.85h-0.85zM273.6 296.0h0.85v0.85h-0.85zM273.1 300.4h0.85v0.85h-0.85zM271.1 288.5h0.85v0.85h-0.85z" fill="#3d4a9a" fill-opacity="0.5"/>
<ellipse cx="269" cy="295" rx="2.4" ry="13.8" transform="rotate(6 269 295)" fill="#5a86c4" fill-opacity="0.9"/>
<ellipse cx="269" cy="295" rx="1.92" ry="11.04" transform="rotate(6 269 295)" fill="#3e7fb8" fill-opacity="0.9"/>
<ellipse cx="269" cy="295" rx="1.44" ry="7.59" transform="rotate(6 269 295)" fill="#3ea29a" fill-opacity="0.9"/>
<ellipse cx="269" cy="295" rx="1.08" ry="4.14" transform="rotate(6 269 295)" fill="#55b070" fill-opacity="0.9"/>
<path d="M270.0 289.9h0.85v0.85h-0.85zM269.0 290.8h0.85v0.85h-0.85zM270.3 278.9h0.85v0.85h-0.85zM270.3 296.9h0.85v0.85h-0.85zM268.9 308.9h0.85v0.85h-0.85zM270.3 282.5h0.85v0.85h-0.85zM268.8 286.5h0.85v0.85h-0.85zM268.3 295.5h0.85v0.85h-0.85zM266.4 297.1h0.85v0.85h-0.85zM267.0 296.9h0.85v0.85h-0.85zM269.1 292.8h0.85v0.85h-0.85zM269.3 291.2h0.85v0.85h-0.85zM269.5 283.2h0.85v0.85h-0.85zM267.6 307.8h0.85v0.85h-0.85zM270.4 304.5h0.85v0.85h-0.85zM270.3 290.4h0.85v0.85h-0.85zM270.8 294.8h0.85v0.85h-0.85zM269.1 293.0h0.85v0.85h-0.85zM269.4 292.0h0.85v0.85h-0.85zM269.7 287.4h0.85v0.85h-0.85zM266.9 310.8h0.85v0.85h-0.85zM269.1 293.3h0.85v0.85h-0.85zM269.1 300.0h0.85v0.85h-0.85zM267.8 293.4h0.85v0.85h-0.85zM269.9 297.0h0.85v0.85h-0.85zM268.0 305.8h0.85v0.85h-0.85zM268.1 295.5h0.85v0.85h-0.85zM267.3 305.3h0.85v0.85h-0.85zM267.2 290.1h0.85v0.85h-0.85zM267.9 299.6h0.85v0.85h-0.85zM268.7 304.8h0.85v0.85h-0.85zM266.6 300.0h0.85v0.85h-0.85zM269.1 290.3h0.85v0.85h-0.85zM270.3 288.7h0.85v0.85h-0.85zM266.8 292.2h0.85v0.85h-0.85zM267.7 290.3h0.85v0.85h-0.85zM269.2 297.2h0.85v0.85h-0.85zM271.0 293.8h0.85v0.85h-0.85zM267.7 289.5h0.85v0.85h-0.85zM268.8 286.4h0.85v0.85h-0.85z" fill="#2a4a8e" fill-opacity="0.45"/>
<rect x="246.9" y="250.6" width="94.9" height="92.8" fill="none" stroke="#8c8c8c" stroke-width="1" />
<rect x="274.3" y="259.3" width="64.3" height="58" fill="none" stroke="#333333" stroke-width="1.1" />
<line x1="244.6" y1="259.1" x2="246.9" y2="259.1" stroke="#231f20" stroke-width="0.9" />
<line x1="244.6" y1="281.3" x2="246.9" y2="281.3" stroke="#231f20" stroke-width="0.9" />
<line x1="244.6" y1="306.5" x2="246.9" y2="306.5" stroke="#231f20" stroke-width="0.9" />
<line x1="244.6" y1="322.5" x2="246.9" y2="322.5" stroke="#231f20" stroke-width="0.9" />
<line x1="244.6" y1="337" x2="246.9" y2="337" stroke="#231f20" stroke-width="0.9" />
<line x1="245.5" y1="298.91" x2="246.9" y2="298.91" stroke="#231f20" stroke-width="0.5" />
<line x1="245.5" y1="274.62" x2="246.9" y2="274.62" stroke="#231f20" stroke-width="0.5" />
<line x1="245.5" y1="294.48" x2="246.9" y2="294.48" stroke="#231f20" stroke-width="0.5" />
<line x1="245.5" y1="270.71" x2="246.9" y2="270.71" stroke="#231f20" stroke-width="0.5" />
<line x1="245.5" y1="291.33" x2="246.9" y2="291.33" stroke="#231f20" stroke-width="0.5" />
<line x1="245.5" y1="267.93" x2="246.9" y2="267.93" stroke="#231f20" stroke-width="0.5" />
<line x1="245.5" y1="288.89" x2="246.9" y2="288.89" stroke="#231f20" stroke-width="0.5" />
<line x1="245.5" y1="265.78" x2="246.9" y2="265.78" stroke="#231f20" stroke-width="0.5" />
<line x1="245.5" y1="286.89" x2="246.9" y2="286.89" stroke="#231f20" stroke-width="0.5" />
<line x1="245.5" y1="264.03" x2="246.9" y2="264.03" stroke="#231f20" stroke-width="0.5" />
<line x1="245.5" y1="285.2" x2="246.9" y2="285.2" stroke="#231f20" stroke-width="0.5" />
<line x1="245.5" y1="262.54" x2="246.9" y2="262.54" stroke="#231f20" stroke-width="0.5" />
<line x1="245.5" y1="283.74" x2="246.9" y2="283.74" stroke="#231f20" stroke-width="0.5" />
<line x1="245.5" y1="261.25" x2="246.9" y2="261.25" stroke="#231f20" stroke-width="0.5" />
<line x1="245.5" y1="282.45" x2="246.9" y2="282.45" stroke="#231f20" stroke-width="0.5" />
<line x1="245.5" y1="260.12" x2="246.9" y2="260.12" stroke="#231f20" stroke-width="0.5" />
<rect x="244.3" y="319.9" width="2.4" height="4.2" fill="#231f20" />
<text x="241.7" y="262.2" font-size="9" text-anchor="end">10<tspan font-size="6.2" dy="-3.5">5</tspan></text>
<text x="241.7" y="284.4" font-size="9" text-anchor="end">10<tspan font-size="6.2" dy="-3.5">4</tspan></text>
<text x="241.7" y="309.9" font-size="9" text-anchor="end">10<tspan font-size="6.2" dy="-3.5">3</tspan></text>
<text x="241.7" y="325.6" font-size="9" text-anchor="end">0</text>
<text x="241.7" y="339.7" font-size="9" text-anchor="end">−10<tspan font-size="6.2" dy="-3.5">3</tspan></text>
<line x1="246.4" y1="343.4" x2="246.4" y2="345.8" stroke="#231f20" stroke-width="0.9" />
<line x1="268.4" y1="343.4" x2="268.4" y2="345.8" stroke="#231f20" stroke-width="0.9" />
<line x1="289.2" y1="343.4" x2="289.2" y2="345.8" stroke="#231f20" stroke-width="0.9" />
<line x1="312.2" y1="343.4" x2="312.2" y2="345.8" stroke="#231f20" stroke-width="0.9" />
<line x1="331.9" y1="343.4" x2="331.9" y2="345.8" stroke="#231f20" stroke-width="0.9" />
<line x1="296.12" y1="343.4" x2="296.12" y2="344.9" stroke="#231f20" stroke-width="0.55" />
<line x1="318.13" y1="343.4" x2="318.13" y2="344.9" stroke="#231f20" stroke-width="0.55" />
<line x1="300.17" y1="343.4" x2="300.17" y2="344.9" stroke="#231f20" stroke-width="0.55" />
<line x1="321.6" y1="343.4" x2="321.6" y2="344.9" stroke="#231f20" stroke-width="0.55" />
<line x1="303.05" y1="343.4" x2="303.05" y2="344.9" stroke="#231f20" stroke-width="0.55" />
<line x1="324.06" y1="343.4" x2="324.06" y2="344.9" stroke="#231f20" stroke-width="0.55" />
<line x1="305.28" y1="343.4" x2="305.28" y2="344.9" stroke="#231f20" stroke-width="0.55" />
<line x1="325.97" y1="343.4" x2="325.97" y2="344.9" stroke="#231f20" stroke-width="0.55" />
<line x1="307.1" y1="343.4" x2="307.1" y2="344.9" stroke="#231f20" stroke-width="0.55" />
<line x1="327.53" y1="343.4" x2="327.53" y2="344.9" stroke="#231f20" stroke-width="0.55" />
<line x1="308.64" y1="343.4" x2="308.64" y2="344.9" stroke="#231f20" stroke-width="0.55" />
<line x1="328.85" y1="343.4" x2="328.85" y2="344.9" stroke="#231f20" stroke-width="0.55" />
<line x1="309.97" y1="343.4" x2="309.97" y2="344.9" stroke="#231f20" stroke-width="0.55" />
<line x1="329.99" y1="343.4" x2="329.99" y2="344.9" stroke="#231f20" stroke-width="0.55" />
<line x1="311.15" y1="343.4" x2="311.15" y2="344.9" stroke="#231f20" stroke-width="0.55" />
<line x1="331" y1="343.4" x2="331" y2="344.9" stroke="#231f20" stroke-width="0.55" />
<line x1="270.48" y1="343.4" x2="270.48" y2="344.9" stroke="#231f20" stroke-width="0.55" />
<line x1="248.6" y1="343.4" x2="248.6" y2="344.9" stroke="#231f20" stroke-width="0.55" />
<line x1="272.56" y1="343.4" x2="272.56" y2="344.9" stroke="#231f20" stroke-width="0.55" />
<line x1="250.8" y1="343.4" x2="250.8" y2="344.9" stroke="#231f20" stroke-width="0.55" />
<line x1="274.64" y1="343.4" x2="274.64" y2="344.9" stroke="#231f20" stroke-width="0.55" />
<line x1="253" y1="343.4" x2="253" y2="344.9" stroke="#231f20" stroke-width="0.55" />
<line x1="276.72" y1="343.4" x2="276.72" y2="344.9" stroke="#231f20" stroke-width="0.55" />
<line x1="255.2" y1="343.4" x2="255.2" y2="344.9" stroke="#231f20" stroke-width="0.55" />
<line x1="278.8" y1="343.4" x2="278.8" y2="344.9" stroke="#231f20" stroke-width="0.55" />
<line x1="257.4" y1="343.4" x2="257.4" y2="344.9" stroke="#231f20" stroke-width="0.55" />
<line x1="280.88" y1="343.4" x2="280.88" y2="344.9" stroke="#231f20" stroke-width="0.55" />
<line x1="259.6" y1="343.4" x2="259.6" y2="344.9" stroke="#231f20" stroke-width="0.55" />
<line x1="282.96" y1="343.4" x2="282.96" y2="344.9" stroke="#231f20" stroke-width="0.55" />
<line x1="261.8" y1="343.4" x2="261.8" y2="344.9" stroke="#231f20" stroke-width="0.55" />
<line x1="285.04" y1="343.4" x2="285.04" y2="344.9" stroke="#231f20" stroke-width="0.55" />
<line x1="264" y1="343.4" x2="264" y2="344.9" stroke="#231f20" stroke-width="0.55" />
<line x1="287.12" y1="343.4" x2="287.12" y2="344.9" stroke="#231f20" stroke-width="0.55" />
<line x1="266.2" y1="343.4" x2="266.2" y2="344.9" stroke="#231f20" stroke-width="0.55" />
<rect x="265.4" y="343.4" width="5.5" height="2.2" fill="#231f20" />
<text x="248.2" y="356.8" font-size="8.6" text-anchor="middle">−10<tspan font-size="6.2" dy="-3.5">3</tspan></text>
<text x="269.2" y="356.8" font-size="8.6" text-anchor="middle">0</text>
<text x="288" y="356.8" font-size="8.6" text-anchor="middle">10<tspan font-size="6.2" dy="-3.5">3</tspan></text>
<text x="311.5" y="356.8" font-size="8.6" text-anchor="middle">10<tspan font-size="6.2" dy="-3.5">4</tspan></text>
<text x="332.7" y="356.8" font-size="8.6" text-anchor="middle">10<tspan font-size="6.2" dy="-3.5">5</tspan></text>
<path d="M446.4 305.1h0.85v0.85h-0.85zM420.8 284.6h0.85v0.85h-0.85zM419.3 293.9h0.85v0.85h-0.85zM437.6 300.3h0.85v0.85h-0.85zM423.9 293.6h0.85v0.85h-0.85zM422.8 291.1h0.85v0.85h-0.85zM419.8 294.0h0.85v0.85h-0.85zM422.1 287.9h0.85v0.85h-0.85zM408.0 296.2h0.85v0.85h-0.85zM404.2 308.9h0.85v0.85h-0.85zM437.5 301.8h0.85v0.85h-0.85zM428.4 289.4h0.85v0.85h-0.85zM433.6 290.7h0.85v0.85h-0.85zM439.8 293.3h0.85v0.85h-0.85zM412.3 301.0h0.85v0.85h-0.85zM412.5 291.0h0.85v0.85h-0.85zM414.6 291.7h0.85v0.85h-0.85zM415.9 300.4h0.85v0.85h-0.85zM437.8 300.3h0.85v0.85h-0.85zM419.3 293.4h0.85v0.85h-0.85zM416.8 289.4h0.85v0.85h-0.85zM431.8 287.0h0.85v0.85h-0.85zM410.3 291.7h0.85v0.85h-0.85zM406.4 283.2h0.85v0.85h-0.85zM434.8 299.6h0.85v0.85h-0.85zM437.6 292.0h0.85v0.85h-0.85zM415.5 298.1h0.85v0.85h-0.85zM431.8 305.8h0.85v0.85h-0.85zM402.9 302.0h0.85v0.85h-0.85zM420.7 289.2h0.85v0.85h-0.85zM429.0 300.3h0.85v0.85h-0.85zM413.5 301.9h0.85v0.85h-0.85zM418.0 291.4h0.85v0.85h-0.85zM430.6 290.3h0.85v0.85h-0.85zM429.6 294.9h0.85v0.85h-0.85zM408.7 286.7h0.85v0.85h-0.85zM435.2 303.6h0.85v0.85h-0.85zM405.1 282.3h0.85v0.85h-0.85zM447.8 289.4h0.85v0.85h-0.85zM411.0 294.0h0.85v0.85h-0.85zM413.5 294.3h0.85v0.85h-0.85zM410.9 296.4h0.85v0.85h-0.85zM448.9 297.0h0.85v0.85h-0.85zM415.1 294.3h0.85v0.85h-0.85zM430.4 301.8h0.85v0.85h-0.85zM448.9 283.7h0.85v0.85h-0.85zM446.9 295.5h0.85v0.85h-0.85zM403.3 291.6h0.85v0.85h-0.85zM426.3 296.2h0.85v0.85h-0.85zM430.2 296.7h0.85v0.85h-0.85zM435.0 290.5h0.85v0.85h-0.85zM417.4 292.0h0.85v0.85h-0.85zM417.0 299.9h0.85v0.85h-0.85zM401.5 297.4h0.85v0.85h-0.85zM403.0 291.8h0.85v0.85h-0.85zM427.7 306.7h0.85v0.85h-0.85zM404.9 308.2h0.85v0.85h-0.85zM411.0 287.5h0.85v0.85h-0.85zM417.3 297.2h0.85v0.85h-0.85zM404.7 309.0h0.85v0.85h-0.85zM402.8 299.8h0.85v0.85h-0.85zM445.8 296.7h0.85v0.85h-0.85zM422.2 294.4h0.85v0.85h-0.85zM411.1 292.5h0.85v0.85h-0.85zM435.3 294.3h0.85v0.85h-0.85zM401.8 292.5h0.85v0.85h-0.85zM413.1 299.6h0.85v0.85h-0.85zM447.4 293.3h0.85v0.85h-0.85zM444.4 293.1h0.85v0.85h-0.85zM431.8 288.9h0.85v0.85h-0.85zM405.8 295.2h0.85v0.85h-0.85zM416.6 290.6h0.85v0.85h-0.85zM402.6 294.5h0.85v0.85h-0.85zM411.8 301.2h0.85v0.85h-0.85zM402.5 297.5h0.85v0.85h-0.85zM407.4 298.3h0.85v0.85h-0.85zM431.7 297.5h0.85v0.85h-0.85zM406.1 295.8h0.85v0.85h-0.85zM408.8 294.8h0.85v0.85h-0.85zM444.6 293.8h0.85v0.85h-0.85zM417.4 299.7h0.85v0.85h-0.85zM417.3 289.5h0.85v0.85h-0.85zM405.5 302.9h0.85v0.85h-0.85zM439.5 295.7h0.85v0.85h-0.85zM433.8 291.4h0.85v0.85h-0.85zM427.6 292.8h0.85v0.85h-0.85zM431.0 291.8h0.85v0.85h-0.85zM406.1 296.4h0.85v0.85h-0.85zM413.8 291.6h0.85v0.85h-0.85zM429.3 301.8h0.85v0.85h-0.85zM447.0 291.2h0.85v0.85h-0.85zM440.5 283.0h0.85v0.85h-0.85zM432.1 291.5h0.85v0.85h-0.85zM426.2 284.5h0.85v0.85h-0.85zM402.0 295.3h0.85v0.85h-0.85zM444.1 301.3h0.85v0.85h-0.85zM404.5 299.1h0.85v0.85h-0.85zM407.5 288.1h0.85v0.85h-0.85zM434.6 291.3h0.85v0.85h-0.85zM440.3 305.3h0.85v0.85h-0.85zM439.1 297.3h0.85v0.85h-0.85zM423.0 295.5h0.85v0.85h-0.85zM409.8 301.3h0.85v0.85h-0.85zM403.0 309.0h0.85v0.85h-0.85zM442.2 302.6h0.85v0.85h-0.85zM448.2 296.3h0.85v0.85h-0.85zM413.0 297.5h0.85v0.85h-0.85zM442.9 298.9h0.85v0.85h-0.85zM420.6 292.1h0.85v0.85h-0.85zM416.2 289.7h0.85v0.85h-0.85zM425.5 295.8h0.85v0.85h-0.85zM401.7 290.3h0.85v0.85h-0.85zM422.6 295.2h0.85v0.85h-0.85zM410.9 296.0h0.85v0.85h-0.85zM435.5 308.4h0.85v0.85h-0.85zM425.4 290.8h0.85v0.85h-0.85zM443.0 294.8h0.85v0.85h-0.85zM444.3 294.6h0.85v0.85h-0.85zM416.5 297.9h0.85v0.85h-0.85zM414.8 301.3h0.85v0.85h-0.85zM446.4 292.8h0.85v0.85h-0.85zM425.5 291.0h0.85v0.85h-0.85zM405.9 286.5h0.85v0.85h-0.85zM403.5 290.4h0.85v0.85h-0.85zM448.8 298.5h0.85v0.85h-0.85zM429.1 295.8h0.85v0.85h-0.85zM403.9 289.9h0.85v0.85h-0.85zM425.8 293.4h0.85v0.85h-0.85zM425.5 295.7h0.85v0.85h-0.85zM422.2 298.3h0.85v0.85h-0.85zM447.0 292.2h0.85v0.85h-0.85zM446.8 294.1h0.85v0.85h-0.85zM407.3 285.5h0.85v0.85h-0.85zM408.6 289.2h0.85v0.85h-0.85zM420.9 304.4h0.85v0.85h-0.85zM441.3 283.5h0.85v0.85h-0.85zM431.2 293.6h0.85v0.85h-0.85zM436.3 296.7h0.85v0.85h-0.85zM429.0 293.4h0.85v0.85h-0.85zM411.4 291.1h0.85v0.85h-0.85zM440.6 295.2h0.85v0.85h-0.85zM402.0 295.5h0.85v0.85h-0.85zM434.8 295.0h0.85v0.85h-0.85zM410.6 285.2h0.85v0.85h-0.85zM423.9 294.7h0.85v0.85h-0.85zM448.1 290.8h0.85v0.85h-0.85zM427.2 292.5h0.85v0.85h-0.85zM404.0 296.7h0.85v0.85h-0.85zM421.9 299.0h0.85v0.85h-0.85zM433.0 300.4h0.85v0.85h-0.85zM404.0 292.8h0.85v0.85h-0.85zM413.4 300.6h0.85v0.85h-0.85zM402.2 302.0h0.85v0.85h-0.85zM427.2 301.8h0.85v0.85h-0.85zM419.6 303.1h0.85v0.85h-0.85zM425.5 294.7h0.85v0.85h-0.85zM415.5 294.5h0.85v0.85h-0.85zM432.8 300.0h0.85v0.85h-0.85zM409.6 288.0h0.85v0.85h-0.85zM444.8 296.7h0.85v0.85h-0.85zM447.4 292.6h0.85v0.85h-0.85zM425.0 293.5h0.85v0.85h-0.85zM423.6 285.9h0.85v0.85h-0.85zM442.6 290.6h0.85v0.85h-0.85zM415.2 295.4h0.85v0.85h-0.85zM439.8 300.4h0.85v0.85h-0.85zM415.1 300.9h0.85v0.85h-0.85zM435.9 295.1h0.85v0.85h-0.85zM417.3 294.5h0.85v0.85h-0.85zM430.2 290.9h0.85v0.85h-0.85zM445.7 297.7h0.85v0.85h-0.85zM403.9 294.1h0.85v0.85h-0.85zM440.0 298.8h0.85v0.85h-0.85zM427.3 305.1h0.85v0.85h-0.85zM419.5 295.3h0.85v0.85h-0.85zM418.1 287.3h0.85v0.85h-0.85zM404.6 290.8h0.85v0.85h-0.85zM413.7 287.5h0.85v0.85h-0.85zM431.2 288.9h0.85v0.85h-0.85zM406.0 302.7h0.85v0.85h-0.85zM433.4 296.7h0.85v0.85h-0.85zM447.5 287.1h0.85v0.85h-0.85zM448.4 299.1h0.85v0.85h-0.85zM444.0 302.4h0.85v0.85h-0.85zM440.0 293.5h0.85v0.85h-0.85zM409.8 291.8h0.85v0.85h-0.85zM447.9 293.6h0.85v0.85h-0.85zM411.0 297.1h0.85v0.85h-0.85zM443.0 299.0h0.85v0.85h-0.85zM443.4 302.0h0.85v0.85h-0.85zM431.2 302.2h0.85v0.85h-0.85zM426.3 302.0h0.85v0.85h-0.85zM410.9 303.0h0.85v0.85h-0.85zM426.2 299.1h0.85v0.85h-0.85zM415.2 287.1h0.85v0.85h-0.85zM407.3 294.8h0.85v0.85h-0.85zM407.5 297.2h0.85v0.85h-0.85zM439.8 293.4h0.85v0.85h-0.85zM445.6 300.5h0.85v0.85h-0.85zM408.1 293.5h0.85v0.85h-0.85zM401.9 290.4h0.85v0.85h-0.85zM414.0 303.4h0.85v0.85h-0.85zM407.8 299.2h0.85v0.85h-0.85zM410.4 296.7h0.85v0.85h-0.85zM429.3 300.6h0.85v0.85h-0.85zM421.6 301.3h0.85v0.85h-0.85zM421.9 297.4h0.85v0.85h-0.85zM411.2 282.0h0.85v0.85h-0.85zM433.2 291.8h0.85v0.85h-0.85zM415.2 293.0h0.85v0.85h-0.85zM420.5 290.1h0.85v0.85h-0.85zM423.5 296.6h0.85v0.85h-0.85zM444.7 302.1h0.85v0.85h-0.85zM413.1 292.8h0.85v0.85h-0.85zM435.8 289.3h0.85v0.85h-0.85zM416.1 306.7h0.85v0.85h-0.85zM444.2 293.0h0.85v0.85h-0.85zM420.2 288.7h0.85v0.85h-0.85zM425.5 296.8h0.85v0.85h-0.85zM443.4 297.8h0.85v0.85h-0.85zM433.6 291.6h0.85v0.85h-0.85zM405.8 299.8h0.85v0.85h-0.85zM407.9 292.8h0.85v0.85h-0.85zM448.9 290.4h0.85v0.85h-0.85zM402.7 296.5h0.85v0.85h-0.85zM415.7 299.7h0.85v0.85h-0.85zM447.3 292.0h0.85v0.85h-0.85zM402.0 297.3h0.85v0.85h-0.85zM409.0 295.0h0.85v0.85h-0.85zM411.5 309.0h0.85v0.85h-0.85zM405.4 291.6h0.85v0.85h-0.85zM424.0 303.1h0.85v0.85h-0.85zM429.7 295.2h0.85v0.85h-0.85zM416.6 294.8h0.85v0.85h-0.85zM406.5 299.5h0.85v0.85h-0.85zM440.2 300.4h0.85v0.85h-0.85zM439.9 302.5h0.85v0.85h-0.85zM428.3 297.3h0.85v0.85h-0.85zM407.9 292.2h0.85v0.85h-0.85zM427.3 292.5h0.85v0.85h-0.85zM431.5 298.3h0.85v0.85h-0.85zM421.9 298.7h0.85v0.85h-0.85zM442.8 303.2h0.85v0.85h-0.85zM420.0 297.8h0.85v0.85h-0.85zM425.8 301.3h0.85v0.85h-0.85zM406.8 303.8h0.85v0.85h-0.85zM428.4 296.4h0.85v0.85h-0.85zM438.1 287.3h0.85v0.85h-0.85zM436.4 289.0h0.85v0.85h-0.85zM413.6 287.6h0.85v0.85h-0.85z" fill="#4a4f9c" fill-opacity="0.42"/>
<path d="M405.3 292.8h0.85v0.85h-0.85zM404.4 299.9h0.85v0.85h-0.85zM405.6 302.0h0.85v0.85h-0.85zM401.0 296.0h0.85v0.85h-0.85zM401.5 297.9h0.85v0.85h-0.85zM400.0 296.8h0.85v0.85h-0.85zM405.3 288.5h0.85v0.85h-0.85zM401.9 292.5h0.85v0.85h-0.85zM401.8 301.2h0.85v0.85h-0.85zM401.2 300.9h0.85v0.85h-0.85zM397.3 302.5h0.85v0.85h-0.85zM399.8 300.1h0.85v0.85h-0.85zM401.8 284.1h0.85v0.85h-0.85zM399.4 298.1h0.85v0.85h-0.85zM405.2 298.4h0.85v0.85h-0.85zM401.9 289.9h0.85v0.85h-0.85zM404.9 306.0h0.85v0.85h-0.85zM401.4 295.9h0.85v0.85h-0.85zM397.3 301.4h0.85v0.85h-0.85zM408.1 300.6h0.85v0.85h-0.85zM404.5 299.7h0.85v0.85h-0.85zM398.8 303.7h0.85v0.85h-0.85zM398.2 295.9h0.85v0.85h-0.85zM402.0 301.4h0.85v0.85h-0.85zM402.3 298.9h0.85v0.85h-0.85zM399.4 290.6h0.85v0.85h-0.85zM401.5 293.4h0.85v0.85h-0.85zM398.0 290.7h0.85v0.85h-0.85zM400.1 287.7h0.85v0.85h-0.85zM397.9 288.8h0.85v0.85h-0.85zM401.8 299.0h0.85v0.85h-0.85zM406.3 289.5h0.85v0.85h-0.85zM399.6 301.6h0.85v0.85h-0.85zM400.8 295.4h0.85v0.85h-0.85zM405.6 295.3h0.85v0.85h-0.85zM398.4 290.4h0.85v0.85h-0.85zM402.1 298.5h0.85v0.85h-0.85zM397.9 292.1h0.85v0.85h-0.85zM402.6 299.9h0.85v0.85h-0.85zM399.7 300.1h0.85v0.85h-0.85zM402.7 288.1h0.85v0.85h-0.85zM400.5 299.1h0.85v0.85h-0.85zM399.9 286.3h0.85v0.85h-0.85zM400.6 300.8h0.85v0.85h-0.85zM405.3 286.0h0.85v0.85h-0.85zM407.8 291.4h0.85v0.85h-0.85zM403.7 303.2h0.85v0.85h-0.85zM403.8 297.7h0.85v0.85h-0.85zM398.4 300.1h0.85v0.85h-0.85zM399.5 284.4h0.85v0.85h-0.85zM408.4 300.5h0.85v0.85h-0.85zM405.8 292.4h0.85v0.85h-0.85zM405.0 304.9h0.85v0.85h-0.85zM405.2 296.9h0.85v0.85h-0.85zM398.3 296.1h0.85v0.85h-0.85zM395.8 288.5h0.85v0.85h-0.85zM401.5 292.0h0.85v0.85h-0.85zM400.9 296.5h0.85v0.85h-0.85zM406.1 303.5h0.85v0.85h-0.85zM401.2 303.0h0.85v0.85h-0.85zM399.4 295.3h0.85v0.85h-0.85zM403.6 290.8h0.85v0.85h-0.85zM400.6 290.4h0.85v0.85h-0.85zM401.6 305.2h0.85v0.85h-0.85zM399.4 298.1h0.85v0.85h-0.85zM399.1 291.3h0.85v0.85h-0.85zM398.2 304.3h0.85v0.85h-0.85zM407.2 299.4h0.85v0.85h-0.85zM399.5 300.5h0.85v0.85h-0.85zM400.5 301.0h0.85v0.85h-0.85z" fill="#3d4a9a" fill-opacity="0.5"/>
<ellipse cx="397" cy="295" rx="2.4" ry="13.8" transform="rotate(6 397 295)" fill="#5a86c4" fill-opacity="0.9"/>
<ellipse cx="397" cy="295" rx="1.92" ry="11.04" transform="rotate(6 397 295)" fill="#3e7fb8" fill-opacity="0.9"/>
<ellipse cx="397" cy="295" rx="1.44" ry="7.59" transform="rotate(6 397 295)" fill="#3ea29a" fill-opacity="0.9"/>
<ellipse cx="397" cy="295" rx="1.08" ry="4.14" transform="rotate(6 397 295)" fill="#55b070" fill-opacity="0.9"/>
<path d="M397.1 297.0h0.85v0.85h-0.85zM398.1 291.0h0.85v0.85h-0.85zM397.8 283.0h0.85v0.85h-0.85zM397.5 285.0h0.85v0.85h-0.85zM397.5 288.3h0.85v0.85h-0.85zM396.8 298.2h0.85v0.85h-0.85zM395.9 289.2h0.85v0.85h-0.85zM395.3 300.1h0.85v0.85h-0.85zM398.4 301.1h0.85v0.85h-0.85zM395.5 305.2h0.85v0.85h-0.85zM394.1 305.2h0.85v0.85h-0.85zM398.3 275.6h0.85v0.85h-0.85zM399.0 306.3h0.85v0.85h-0.85zM395.6 296.0h0.85v0.85h-0.85zM396.7 295.7h0.85v0.85h-0.85zM395.7 290.1h0.85v0.85h-0.85zM397.4 296.6h0.85v0.85h-0.85zM398.4 295.7h0.85v0.85h-0.85zM400.3 290.3h0.85v0.85h-0.85zM398.7 281.7h0.85v0.85h-0.85zM394.5 304.1h0.85v0.85h-0.85zM395.5 298.6h0.85v0.85h-0.85zM397.7 287.7h0.85v0.85h-0.85zM397.0 291.4h0.85v0.85h-0.85zM395.9 300.2h0.85v0.85h-0.85zM398.2 291.1h0.85v0.85h-0.85zM395.7 296.9h0.85v0.85h-0.85zM396.1 302.1h0.85v0.85h-0.85zM399.6 301.2h0.85v0.85h-0.85zM397.1 293.8h0.85v0.85h-0.85zM396.6 288.6h0.85v0.85h-0.85zM396.1 292.1h0.85v0.85h-0.85zM395.9 300.1h0.85v0.85h-0.85zM396.7 293.6h0.85v0.85h-0.85zM394.3 306.3h0.85v0.85h-0.85zM396.3 307.5h0.85v0.85h-0.85zM396.9 305.5h0.85v0.85h-0.85zM396.2 300.0h0.85v0.85h-0.85zM401.1 286.8h0.85v0.85h-0.85zM397.2 307.0h0.85v0.85h-0.85z" fill="#2a4a8e" fill-opacity="0.45"/>
<rect x="376" y="250.4" width="94.9" height="93" fill="none" stroke="#8c8c8c" stroke-width="1" />
<rect x="403.5" y="259.4" width="63.1" height="58" fill="none" stroke="#333333" stroke-width="1.1" />
<line x1="373.7" y1="259.1" x2="376" y2="259.1" stroke="#231f20" stroke-width="0.9" />
<line x1="373.7" y1="281.3" x2="376" y2="281.3" stroke="#231f20" stroke-width="0.9" />
<line x1="373.7" y1="306.5" x2="376" y2="306.5" stroke="#231f20" stroke-width="0.9" />
<line x1="373.7" y1="322.5" x2="376" y2="322.5" stroke="#231f20" stroke-width="0.9" />
<line x1="373.7" y1="337" x2="376" y2="337" stroke="#231f20" stroke-width="0.9" />
<line x1="374.6" y1="298.91" x2="376" y2="298.91" stroke="#231f20" stroke-width="0.5" />
<line x1="374.6" y1="274.62" x2="376" y2="274.62" stroke="#231f20" stroke-width="0.5" />
<line x1="374.6" y1="294.48" x2="376" y2="294.48" stroke="#231f20" stroke-width="0.5" />
<line x1="374.6" y1="270.71" x2="376" y2="270.71" stroke="#231f20" stroke-width="0.5" />
<line x1="374.6" y1="291.33" x2="376" y2="291.33" stroke="#231f20" stroke-width="0.5" />
<line x1="374.6" y1="267.93" x2="376" y2="267.93" stroke="#231f20" stroke-width="0.5" />
<line x1="374.6" y1="288.89" x2="376" y2="288.89" stroke="#231f20" stroke-width="0.5" />
<line x1="374.6" y1="265.78" x2="376" y2="265.78" stroke="#231f20" stroke-width="0.5" />
<line x1="374.6" y1="286.89" x2="376" y2="286.89" stroke="#231f20" stroke-width="0.5" />
<line x1="374.6" y1="264.03" x2="376" y2="264.03" stroke="#231f20" stroke-width="0.5" />
<line x1="374.6" y1="285.2" x2="376" y2="285.2" stroke="#231f20" stroke-width="0.5" />
<line x1="374.6" y1="262.54" x2="376" y2="262.54" stroke="#231f20" stroke-width="0.5" />
<line x1="374.6" y1="283.74" x2="376" y2="283.74" stroke="#231f20" stroke-width="0.5" />
<line x1="374.6" y1="261.25" x2="376" y2="261.25" stroke="#231f20" stroke-width="0.5" />
<line x1="374.6" y1="282.45" x2="376" y2="282.45" stroke="#231f20" stroke-width="0.5" />
<line x1="374.6" y1="260.12" x2="376" y2="260.12" stroke="#231f20" stroke-width="0.5" />
<rect x="373.4" y="319.9" width="2.4" height="4.2" fill="#231f20" />
<text x="370.8" y="262.2" font-size="9" text-anchor="end">10<tspan font-size="6.2" dy="-3.5">5</tspan></text>
<text x="370.8" y="284.4" font-size="9" text-anchor="end">10<tspan font-size="6.2" dy="-3.5">4</tspan></text>
<text x="370.8" y="310.4" font-size="9" text-anchor="end">10<tspan font-size="6.2" dy="-3.5">3</tspan></text>
<text x="370.8" y="323" font-size="9" text-anchor="end">0</text>
<text x="370.8" y="338.7" font-size="9" text-anchor="end">−10<tspan font-size="6.2" dy="-3.5">3</tspan></text>
<line x1="375.5" y1="343.4" x2="375.5" y2="345.8" stroke="#231f20" stroke-width="0.9" />
<line x1="397.5" y1="343.4" x2="397.5" y2="345.8" stroke="#231f20" stroke-width="0.9" />
<line x1="418.3" y1="343.4" x2="418.3" y2="345.8" stroke="#231f20" stroke-width="0.9" />
<line x1="441.3" y1="343.4" x2="441.3" y2="345.8" stroke="#231f20" stroke-width="0.9" />
<line x1="461" y1="343.4" x2="461" y2="345.8" stroke="#231f20" stroke-width="0.9" />
<line x1="425.22" y1="343.4" x2="425.22" y2="344.9" stroke="#231f20" stroke-width="0.55" />
<line x1="447.23" y1="343.4" x2="447.23" y2="344.9" stroke="#231f20" stroke-width="0.55" />
<line x1="429.27" y1="343.4" x2="429.27" y2="344.9" stroke="#231f20" stroke-width="0.55" />
<line x1="450.7" y1="343.4" x2="450.7" y2="344.9" stroke="#231f20" stroke-width="0.55" />
<line x1="432.15" y1="343.4" x2="432.15" y2="344.9" stroke="#231f20" stroke-width="0.55" />
<line x1="453.16" y1="343.4" x2="453.16" y2="344.9" stroke="#231f20" stroke-width="0.55" />
<line x1="434.38" y1="343.4" x2="434.38" y2="344.9" stroke="#231f20" stroke-width="0.55" />
<line x1="455.07" y1="343.4" x2="455.07" y2="344.9" stroke="#231f20" stroke-width="0.55" />
<line x1="436.2" y1="343.4" x2="436.2" y2="344.9" stroke="#231f20" stroke-width="0.55" />
<line x1="456.63" y1="343.4" x2="456.63" y2="344.9" stroke="#231f20" stroke-width="0.55" />
<line x1="437.74" y1="343.4" x2="437.74" y2="344.9" stroke="#231f20" stroke-width="0.55" />
<line x1="457.95" y1="343.4" x2="457.95" y2="344.9" stroke="#231f20" stroke-width="0.55" />
<line x1="439.07" y1="343.4" x2="439.07" y2="344.9" stroke="#231f20" stroke-width="0.55" />
<line x1="459.09" y1="343.4" x2="459.09" y2="344.9" stroke="#231f20" stroke-width="0.55" />
<line x1="440.25" y1="343.4" x2="440.25" y2="344.9" stroke="#231f20" stroke-width="0.55" />
<line x1="460.1" y1="343.4" x2="460.1" y2="344.9" stroke="#231f20" stroke-width="0.55" />
<line x1="399.58" y1="343.4" x2="399.58" y2="344.9" stroke="#231f20" stroke-width="0.55" />
<line x1="377.7" y1="343.4" x2="377.7" y2="344.9" stroke="#231f20" stroke-width="0.55" />
<line x1="401.66" y1="343.4" x2="401.66" y2="344.9" stroke="#231f20" stroke-width="0.55" />
<line x1="379.9" y1="343.4" x2="379.9" y2="344.9" stroke="#231f20" stroke-width="0.55" />
<line x1="403.74" y1="343.4" x2="403.74" y2="344.9" stroke="#231f20" stroke-width="0.55" />
<line x1="382.1" y1="343.4" x2="382.1" y2="344.9" stroke="#231f20" stroke-width="0.55" />
<line x1="405.82" y1="343.4" x2="405.82" y2="344.9" stroke="#231f20" stroke-width="0.55" />
<line x1="384.3" y1="343.4" x2="384.3" y2="344.9" stroke="#231f20" stroke-width="0.55" />
<line x1="407.9" y1="343.4" x2="407.9" y2="344.9" stroke="#231f20" stroke-width="0.55" />
<line x1="386.5" y1="343.4" x2="386.5" y2="344.9" stroke="#231f20" stroke-width="0.55" />
<line x1="409.98" y1="343.4" x2="409.98" y2="344.9" stroke="#231f20" stroke-width="0.55" />
<line x1="388.7" y1="343.4" x2="388.7" y2="344.9" stroke="#231f20" stroke-width="0.55" />
<line x1="412.06" y1="343.4" x2="412.06" y2="344.9" stroke="#231f20" stroke-width="0.55" />
<line x1="390.9" y1="343.4" x2="390.9" y2="344.9" stroke="#231f20" stroke-width="0.55" />
<line x1="414.14" y1="343.4" x2="414.14" y2="344.9" stroke="#231f20" stroke-width="0.55" />
<line x1="393.1" y1="343.4" x2="393.1" y2="344.9" stroke="#231f20" stroke-width="0.55" />
<line x1="416.22" y1="343.4" x2="416.22" y2="344.9" stroke="#231f20" stroke-width="0.55" />
<line x1="395.3" y1="343.4" x2="395.3" y2="344.9" stroke="#231f20" stroke-width="0.55" />
<rect x="394.5" y="343.4" width="5.5" height="2.2" fill="#231f20" />
<text x="377.3" y="356.8" font-size="8.6" text-anchor="middle">−10<tspan font-size="6.2" dy="-3.5">3</tspan></text>
<text x="398.3" y="356.8" font-size="8.6" text-anchor="middle">0</text>
<text x="417.1" y="356.8" font-size="8.6" text-anchor="middle">10<tspan font-size="6.2" dy="-3.5">3</tspan></text>
<text x="440.6" y="356.8" font-size="8.6" text-anchor="middle">10<tspan font-size="6.2" dy="-3.5">4</tspan></text>
<text x="461.8" y="356.8" font-size="8.6" text-anchor="middle">10<tspan font-size="6.2" dy="-3.5">5</tspan></text>
<path d="M298.5 410.7h0.85v0.85h-0.85zM309.6 396.3h0.85v0.85h-0.85zM298.4 394.1h0.85v0.85h-0.85zM284.0 396.7h0.85v0.85h-0.85zM291.1 404.5h0.85v0.85h-0.85zM299.0 388.5h0.85v0.85h-0.85zM319.3 414.8h0.85v0.85h-0.85zM302.7 399.3h0.85v0.85h-0.85zM291.8 408.6h0.85v0.85h-0.85zM298.5 385.8h0.85v0.85h-0.85zM302.9 432.9h0.85v0.85h-0.85zM268.4 413.2h0.85v0.85h-0.85zM297.9 401.9h0.85v0.85h-0.85zM311.3 390.9h0.85v0.85h-0.85zM295.2 418.0h0.85v0.85h-0.85zM290.4 398.7h0.85v0.85h-0.85zM294.5 398.4h0.85v0.85h-0.85zM313.7 393.7h0.85v0.85h-0.85zM304.7 390.1h0.85v0.85h-0.85zM301.9 401.9h0.85v0.85h-0.85zM258.5 402.9h0.85v0.85h-0.85zM278.7 398.4h0.85v0.85h-0.85zM313.6 391.5h0.85v0.85h-0.85zM278.8 417.8h0.85v0.85h-0.85zM294.5 418.8h0.85v0.85h-0.85zM297.3 393.9h0.85v0.85h-0.85zM292.1 415.6h0.85v0.85h-0.85zM305.6 403.0h0.85v0.85h-0.85zM293.7 401.8h0.85v0.85h-0.85zM285.3 422.9h0.85v0.85h-0.85zM293.1 391.4h0.85v0.85h-0.85zM286.6 410.5h0.85v0.85h-0.85zM301.6 401.6h0.85v0.85h-0.85zM284.1 403.2h0.85v0.85h-0.85zM270.6 389.6h0.85v0.85h-0.85zM303.7 398.1h0.85v0.85h-0.85zM298.0 415.5h0.85v0.85h-0.85zM301.7 403.2h0.85v0.85h-0.85zM321.4 409.9h0.85v0.85h-0.85zM288.3 410.5h0.85v0.85h-0.85zM298.5 394.2h0.85v0.85h-0.85zM294.0 401.3h0.85v0.85h-0.85zM266.7 401.2h0.85v0.85h-0.85zM289.2 398.5h0.85v0.85h-0.85zM271.0 399.4h0.85v0.85h-0.85zM292.5 404.0h0.85v0.85h-0.85zM277.8 409.5h0.85v0.85h-0.85zM276.8 400.7h0.85v0.85h-0.85zM310.4 395.9h0.85v0.85h-0.85zM286.2 414.0h0.85v0.85h-0.85zM287.9 399.9h0.85v0.85h-0.85zM296.0 413.8h0.85v0.85h-0.85zM263.6 394.5h0.85v0.85h-0.85zM279.5 391.9h0.85v0.85h-0.85zM281.6 394.4h0.85v0.85h-0.85zM297.0 393.9h0.85v0.85h-0.85zM294.6 407.1h0.85v0.85h-0.85zM283.3 404.3h0.85v0.85h-0.85zM314.8 406.3h0.85v0.85h-0.85zM284.5 402.3h0.85v0.85h-0.85zM280.8 405.8h0.85v0.85h-0.85zM304.5 394.6h0.85v0.85h-0.85zM290.2 414.4h0.85v0.85h-0.85zM286.4 404.9h0.85v0.85h-0.85zM279.4 394.6h0.85v0.85h-0.85zM286.2 424.8h0.85v0.85h-0.85zM287.7 397.7h0.85v0.85h-0.85zM285.7 401.3h0.85v0.85h-0.85zM301.5 404.9h0.85v0.85h-0.85zM319.8 405.1h0.85v0.85h-0.85zM311.8 405.8h0.85v0.85h-0.85zM300.9 388.6h0.85v0.85h-0.85zM291.3 402.3h0.85v0.85h-0.85zM289.8 381.5h0.85v0.85h-0.85zM304.4 399.1h0.85v0.85h-0.85zM287.3 400.4h0.85v0.85h-0.85zM290.0 407.1h0.85v0.85h-0.85zM276.5 393.7h0.85v0.85h-0.85zM296.8 404.5h0.85v0.85h-0.85zM288.1 397.3h0.85v0.85h-0.85zM282.2 402.4h0.85v0.85h-0.85zM308.3 392.4h0.85v0.85h-0.85zM312.8 411.4h0.85v0.85h-0.85zM287.1 410.8h0.85v0.85h-0.85zM273.9 385.7h0.85v0.85h-0.85zM276.2 398.9h0.85v0.85h-0.85zM288.8 397.8h0.85v0.85h-0.85zM294.3 381.6h0.85v0.85h-0.85zM299.4 388.8h0.85v0.85h-0.85zM284.4 398.9h0.85v0.85h-0.85zM278.0 389.3h0.85v0.85h-0.85zM279.9 402.9h0.85v0.85h-0.85zM300.7 408.6h0.85v0.85h-0.85zM280.1 395.1h0.85v0.85h-0.85zM281.0 407.5h0.85v0.85h-0.85zM266.5 415.4h0.85v0.85h-0.85zM286.7 395.2h0.85v0.85h-0.85zM297.4 413.3h0.85v0.85h-0.85zM297.5 413.5h0.85v0.85h-0.85zM294.7 415.3h0.85v0.85h-0.85zM309.2 402.0h0.85v0.85h-0.85zM311.7 404.6h0.85v0.85h-0.85zM294.1 393.8h0.85v0.85h-0.85zM289.2 410.8h0.85v0.85h-0.85zM275.9 409.5h0.85v0.85h-0.85zM297.5 405.8h0.85v0.85h-0.85zM264.3 402.0h0.85v0.85h-0.85zM301.4 395.4h0.85v0.85h-0.85zM294.2 379.2h0.85v0.85h-0.85zM301.7 396.4h0.85v0.85h-0.85zM304.3 384.6h0.85v0.85h-0.85zM302.0 400.6h0.85v0.85h-0.85zM303.5 393.7h0.85v0.85h-0.85zM285.0 425.4h0.85v0.85h-0.85zM282.2 395.9h0.85v0.85h-0.85zM289.4 392.8h0.85v0.85h-0.85zM308.5 420.3h0.85v0.85h-0.85zM283.8 385.7h0.85v0.85h-0.85zM308.2 414.1h0.85v0.85h-0.85zM303.7 414.6h0.85v0.85h-0.85zM281.7 401.3h0.85v0.85h-0.85zM275.0 388.8h0.85v0.85h-0.85zM305.8 396.3h0.85v0.85h-0.85zM322.6 403.7h0.85v0.85h-0.85zM284.7 411.0h0.85v0.85h-0.85zM316.4 407.9h0.85v0.85h-0.85zM277.2 406.7h0.85v0.85h-0.85zM310.9 398.1h0.85v0.85h-0.85zM282.9 413.2h0.85v0.85h-0.85zM294.8 392.0h0.85v0.85h-0.85zM288.1 395.4h0.85v0.85h-0.85zM296.9 404.1h0.85v0.85h-0.85zM308.0 410.1h0.85v0.85h-0.85zM272.7 407.1h0.85v0.85h-0.85zM304.7 407.6h0.85v0.85h-0.85zM306.4 397.5h0.85v0.85h-0.85zM280.6 412.3h0.85v0.85h-0.85zM279.1 381.4h0.85v0.85h-0.85zM306.3 395.8h0.85v0.85h-0.85zM289.0 389.0h0.85v0.85h-0.85zM275.8 391.4h0.85v0.85h-0.85zM288.3 406.7h0.85v0.85h-0.85zM263.1 410.5h0.85v0.85h-0.85zM277.6 392.3h0.85v0.85h-0.85zM301.8 402.3h0.85v0.85h-0.85zM273.0 421.4h0.85v0.85h-0.85zM281.8 405.5h0.85v0.85h-0.85zM295.6 417.1h0.85v0.85h-0.85zM287.1 413.1h0.85v0.85h-0.85zM283.4 414.2h0.85v0.85h-0.85zM283.1 399.4h0.85v0.85h-0.85zM317.6 406.2h0.85v0.85h-0.85zM294.4 425.4h0.85v0.85h-0.85zM297.7 394.8h0.85v0.85h-0.85zM302.6 391.2h0.85v0.85h-0.85zM307.7 415.1h0.85v0.85h-0.85zM285.6 396.7h0.85v0.85h-0.85zM295.3 403.1h0.85v0.85h-0.85zM280.3 408.7h0.85v0.85h-0.85zM266.5 398.7h0.85v0.85h-0.85zM287.7 400.3h0.85v0.85h-0.85zM297.0 390.7h0.85v0.85h-0.85zM300.7 401.2h0.85v0.85h-0.85zM284.5 389.3h0.85v0.85h-0.85zM277.6 406.6h0.85v0.85h-0.85zM280.5 403.6h0.85v0.85h-0.85zM306.8 413.3h0.85v0.85h-0.85zM313.3 400.0h0.85v0.85h-0.85zM278.9 413.2h0.85v0.85h-0.85zM297.0 414.2h0.85v0.85h-0.85zM293.1 415.0h0.85v0.85h-0.85zM304.0 410.2h0.85v0.85h-0.85zM299.5 407.0h0.85v0.85h-0.85zM296.0 405.3h0.85v0.85h-0.85zM305.9 397.9h0.85v0.85h-0.85zM315.6 401.9h0.85v0.85h-0.85zM305.8 402.1h0.85v0.85h-0.85zM289.8 423.3h0.85v0.85h-0.85zM289.0 390.2h0.85v0.85h-0.85zM283.7 399.8h0.85v0.85h-0.85zM321.0 405.1h0.85v0.85h-0.85zM305.2 393.0h0.85v0.85h-0.85zM297.6 409.7h0.85v0.85h-0.85zM316.4 396.0h0.85v0.85h-0.85zM300.8 406.0h0.85v0.85h-0.85zM279.7 402.8h0.85v0.85h-0.85zM289.6 379.7h0.85v0.85h-0.85zM300.8 408.4h0.85v0.85h-0.85zM287.3 389.6h0.85v0.85h-0.85zM312.2 405.7h0.85v0.85h-0.85zM306.2 417.1h0.85v0.85h-0.85zM286.2 411.1h0.85v0.85h-0.85zM289.9 402.4h0.85v0.85h-0.85zM291.9 403.0h0.85v0.85h-0.85zM307.5 404.2h0.85v0.85h-0.85zM291.0 400.2h0.85v0.85h-0.85zM297.4 394.1h0.85v0.85h-0.85zM286.5 402.5h0.85v0.85h-0.85zM285.6 401.8h0.85v0.85h-0.85zM285.1 423.0h0.85v0.85h-0.85zM310.3 407.5h0.85v0.85h-0.85zM292.3 424.9h0.85v0.85h-0.85zM297.2 402.1h0.85v0.85h-0.85zM296.9 406.1h0.85v0.85h-0.85zM311.3 402.8h0.85v0.85h-0.85zM320.3 394.2h0.85v0.85h-0.85zM302.0 393.0h0.85v0.85h-0.85zM316.6 399.7h0.85v0.85h-0.85zM292.2 412.2h0.85v0.85h-0.85zM309.3 391.9h0.85v0.85h-0.85zM288.5 389.1h0.85v0.85h-0.85zM294.8 402.0h0.85v0.85h-0.85zM288.5 396.2h0.85v0.85h-0.85zM288.0 395.5h0.85v0.85h-0.85zM299.9 418.2h0.85v0.85h-0.85zM267.9 401.8h0.85v0.85h-0.85zM287.6 407.9h0.85v0.85h-0.85zM280.6 401.5h0.85v0.85h-0.85zM279.5 410.0h0.85v0.85h-0.85zM294.3 401.4h0.85v0.85h-0.85zM297.8 400.5h0.85v0.85h-0.85zM272.8 409.0h0.85v0.85h-0.85zM296.7 401.5h0.85v0.85h-0.85zM305.8 415.2h0.85v0.85h-0.85zM278.8 395.2h0.85v0.85h-0.85zM313.1 417.2h0.85v0.85h-0.85zM283.4 391.2h0.85v0.85h-0.85zM284.7 398.0h0.85v0.85h-0.85zM272.4 403.3h0.85v0.85h-0.85zM276.4 390.9h0.85v0.85h-0.85zM304.9 396.2h0.85v0.85h-0.85zM292.1 409.3h0.85v0.85h-0.85zM303.6 399.6h0.85v0.85h-0.85zM293.6 394.7h0.85v0.85h-0.85zM315.7 409.5h0.85v0.85h-0.85zM278.7 403.0h0.85v0.85h-0.85zM302.3 407.8h0.85v0.85h-0.85zM316.8 416.7h0.85v0.85h-0.85zM286.0 402.1h0.85v0.85h-0.85zM276.3 405.5h0.85v0.85h-0.85zM295.0 430.0h0.85v0.85h-0.85zM294.3 382.1h0.85v0.85h-0.85zM284.3 404.1h0.85v0.85h-0.85zM276.7 394.3h0.85v0.85h-0.85zM288.2 406.4h0.85v0.85h-0.85zM290.9 394.1h0.85v0.85h-0.85zM303.2 397.6h0.85v0.85h-0.85zM286.5 389.2h0.85v0.85h-0.85zM282.8 409.5h0.85v0.85h-0.85zM272.0 402.3h0.85v0.85h-0.85z" fill="#4a4f9c" fill-opacity="0.42"/>
<path d="M300.4 408.6h0.85v0.85h-0.85zM297.8 404.9h0.85v0.85h-0.85zM303.7 416.0h0.85v0.85h-0.85zM297.8 401.7h0.85v0.85h-0.85zM290.7 415.4h0.85v0.85h-0.85zM305.9 412.0h0.85v0.85h-0.85zM303.4 407.5h0.85v0.85h-0.85zM295.5 410.5h0.85v0.85h-0.85zM298.8 402.9h0.85v0.85h-0.85zM301.7 417.1h0.85v0.85h-0.85zM290.2 403.7h0.85v0.85h-0.85zM298.4 407.2h0.85v0.85h-0.85zM283.5 414.5h0.85v0.85h-0.85zM297.4 408.1h0.85v0.85h-0.85zM308.1 411.2h0.85v0.85h-0.85zM292.4 411.0h0.85v0.85h-0.85zM290.8 406.7h0.85v0.85h-0.85zM298.6 407.7h0.85v0.85h-0.85zM294.0 418.8h0.85v0.85h-0.85zM301.2 414.5h0.85v0.85h-0.85zM299.4 412.9h0.85v0.85h-0.85zM304.5 410.4h0.85v0.85h-0.85zM306.7 405.7h0.85v0.85h-0.85zM295.1 403.6h0.85v0.85h-0.85zM294.6 413.1h0.85v0.85h-0.85zM304.5 407.2h0.85v0.85h-0.85zM296.5 408.7h0.85v0.85h-0.85zM292.4 404.6h0.85v0.85h-0.85zM296.8 401.8h0.85v0.85h-0.85zM297.1 410.6h0.85v0.85h-0.85zM292.9 405.4h0.85v0.85h-0.85zM288.9 419.9h0.85v0.85h-0.85zM289.1 418.3h0.85v0.85h-0.85zM299.8 408.7h0.85v0.85h-0.85zM290.1 415.7h0.85v0.85h-0.85zM306.0 405.8h0.85v0.85h-0.85zM294.9 415.8h0.85v0.85h-0.85zM298.3 420.5h0.85v0.85h-0.85zM293.4 413.2h0.85v0.85h-0.85zM289.6 421.0h0.85v0.85h-0.85zM292.5 399.5h0.85v0.85h-0.85zM295.8 409.8h0.85v0.85h-0.85zM307.0 408.8h0.85v0.85h-0.85zM296.4 413.5h0.85v0.85h-0.85zM305.2 410.2h0.85v0.85h-0.85zM302.2 413.1h0.85v0.85h-0.85zM294.9 410.9h0.85v0.85h-0.85zM296.7 405.9h0.85v0.85h-0.85zM303.2 403.6h0.85v0.85h-0.85zM302.9 415.3h0.85v0.85h-0.85zM296.0 406.7h0.85v0.85h-0.85zM295.3 412.9h0.85v0.85h-0.85zM300.6 411.9h0.85v0.85h-0.85zM302.0 407.7h0.85v0.85h-0.85zM297.8 402.7h0.85v0.85h-0.85zM300.7 411.3h0.85v0.85h-0.85zM294.2 416.3h0.85v0.85h-0.85zM300.3 396.4h0.85v0.85h-0.85zM296.7 403.2h0.85v0.85h-0.85zM302.4 422.9h0.85v0.85h-0.85zM293.6 410.9h0.85v0.85h-0.85zM295.1 412.3h0.85v0.85h-0.85zM300.0 416.9h0.85v0.85h-0.85zM291.1 418.4h0.85v0.85h-0.85zM291.4 411.9h0.85v0.85h-0.85zM302.9 414.1h0.85v0.85h-0.85zM291.3 407.0h0.85v0.85h-0.85zM294.0 410.2h0.85v0.85h-0.85zM302.8 404.0h0.85v0.85h-0.85zM299.1 413.5h0.85v0.85h-0.85zM299.6 412.8h0.85v0.85h-0.85zM304.9 412.9h0.85v0.85h-0.85zM301.2 413.3h0.85v0.85h-0.85zM306.4 401.0h0.85v0.85h-0.85zM303.6 409.2h0.85v0.85h-0.85zM295.0 405.7h0.85v0.85h-0.85zM286.2 408.6h0.85v0.85h-0.85zM292.7 413.0h0.85v0.85h-0.85zM288.4 417.7h0.85v0.85h-0.85zM298.0 409.3h0.85v0.85h-0.85zM292.6 406.6h0.85v0.85h-0.85zM290.3 407.8h0.85v0.85h-0.85zM296.5 409.6h0.85v0.85h-0.85zM288.7 409.2h0.85v0.85h-0.85zM291.6 411.3h0.85v0.85h-0.85zM306.8 413.6h0.85v0.85h-0.85zM294.8 402.4h0.85v0.85h-0.85zM288.7 402.1h0.85v0.85h-0.85zM300.5 406.7h0.85v0.85h-0.85zM296.8 407.4h0.85v0.85h-0.85zM297.0 417.5h0.85v0.85h-0.85zM292.7 408.8h0.85v0.85h-0.85zM292.1 414.9h0.85v0.85h-0.85zM290.9 404.8h0.85v0.85h-0.85zM288.9 403.5h0.85v0.85h-0.85zM299.1 423.3h0.85v0.85h-0.85zM291.0 415.3h0.85v0.85h-0.85zM297.9 405.0h0.85v0.85h-0.85zM295.0 409.3h0.85v0.85h-0.85zM292.7 420.2h0.85v0.85h-0.85zM286.0 412.4h0.85v0.85h-0.85zM298.3 407.6h0.85v0.85h-0.85zM297.3 414.9h0.85v0.85h-0.85zM297.3 412.6h0.85v0.85h-0.85zM300.3 400.3h0.85v0.85h-0.85zM304.6 421.9h0.85v0.85h-0.85zM301.9 415.6h0.85v0.85h-0.85zM288.8 409.9h0.85v0.85h-0.85zM292.0 407.6h0.85v0.85h-0.85zM301.8 406.5h0.85v0.85h-0.85zM295.8 401.0h0.85v0.85h-0.85zM295.6 411.0h0.85v0.85h-0.85zM292.6 406.9h0.85v0.85h-0.85zM306.9 404.5h0.85v0.85h-0.85zM290.7 406.5h0.85v0.85h-0.85zM303.1 421.0h0.85v0.85h-0.85zM298.3 406.9h0.85v0.85h-0.85zM294.1 415.8h0.85v0.85h-0.85zM291.5 417.8h0.85v0.85h-0.85zM304.3 410.9h0.85v0.85h-0.85zM300.1 414.2h0.85v0.85h-0.85zM305.0 405.2h0.85v0.85h-0.85zM303.0 408.6h0.85v0.85h-0.85zM292.3 411.0h0.85v0.85h-0.85zM295.3 405.6h0.85v0.85h-0.85zM287.7 405.8h0.85v0.85h-0.85zM304.5 420.3h0.85v0.85h-0.85zM300.1 416.4h0.85v0.85h-0.85zM293.7 410.1h0.85v0.85h-0.85zM298.1 405.1h0.85v0.85h-0.85zM291.1 411.0h0.85v0.85h-0.85zM294.7 405.2h0.85v0.85h-0.85zM298.6 409.2h0.85v0.85h-0.85zM302.1 410.5h0.85v0.85h-0.85zM294.8 411.1h0.85v0.85h-0.85zM295.6 407.2h0.85v0.85h-0.85zM294.3 414.2h0.85v0.85h-0.85zM300.1 416.9h0.85v0.85h-0.85zM287.2 408.5h0.85v0.85h-0.85zM294.2 411.4h0.85v0.85h-0.85zM294.0 407.9h0.85v0.85h-0.85zM300.8 411.4h0.85v0.85h-0.85zM290.1 417.2h0.85v0.85h-0.85zM302.0 407.6h0.85v0.85h-0.85zM301.1 406.8h0.85v0.85h-0.85zM302.7 409.4h0.85v0.85h-0.85zM292.1 408.6h0.85v0.85h-0.85zM292.3 411.5h0.85v0.85h-0.85zM297.5 410.7h0.85v0.85h-0.85zM293.4 392.2h0.85v0.85h-0.85zM297.0 401.0h0.85v0.85h-0.85zM297.8 416.2h0.85v0.85h-0.85zM298.0 408.6h0.85v0.85h-0.85zM295.5 409.8h0.85v0.85h-0.85zM293.5 407.6h0.85v0.85h-0.85zM291.4 416.4h0.85v0.85h-0.85zM296.4 415.3h0.85v0.85h-0.85zM295.1 410.9h0.85v0.85h-0.85zM295.6 412.8h0.85v0.85h-0.85zM301.0 411.7h0.85v0.85h-0.85zM292.8 406.6h0.85v0.85h-0.85zM305.6 409.1h0.85v0.85h-0.85zM294.9 417.8h0.85v0.85h-0.85zM302.5 413.2h0.85v0.85h-0.85zM294.3 422.3h0.85v0.85h-0.85zM298.7 413.2h0.85v0.85h-0.85zM295.6 403.4h0.85v0.85h-0.85zM289.2 412.5h0.85v0.85h-0.85zM298.7 409.3h0.85v0.85h-0.85zM290.1 403.3h0.85v0.85h-0.85zM294.7 403.2h0.85v0.85h-0.85zM301.4 416.3h0.85v0.85h-0.85zM312.1 414.9h0.85v0.85h-0.85zM293.2 406.1h0.85v0.85h-0.85zM277.5 407.5h0.85v0.85h-0.85zM295.5 415.3h0.85v0.85h-0.85zM299.9 413.4h0.85v0.85h-0.85zM297.7 413.8h0.85v0.85h-0.85zM304.5 405.2h0.85v0.85h-0.85zM294.0 403.6h0.85v0.85h-0.85zM305.4 417.0h0.85v0.85h-0.85zM300.6 404.5h0.85v0.85h-0.85zM297.5 409.3h0.85v0.85h-0.85zM296.9 409.6h0.85v0.85h-0.85zM299.4 408.5h0.85v0.85h-0.85zM301.2 411.7h0.85v0.85h-0.85zM294.9 409.9h0.85v0.85h-0.85zM294.1 414.6h0.85v0.85h-0.85zM295.0 412.0h0.85v0.85h-0.85zM294.3 403.1h0.85v0.85h-0.85zM301.5 405.2h0.85v0.85h-0.85zM300.2 412.6h0.85v0.85h-0.85zM287.4 405.8h0.85v0.85h-0.85zM293.7 406.4h0.85v0.85h-0.85zM290.0 414.2h0.85v0.85h-0.85zM295.2 412.4h0.85v0.85h-0.85zM294.1 412.0h0.85v0.85h-0.85zM292.4 410.4h0.85v0.85h-0.85zM299.7 410.7h0.85v0.85h-0.85zM294.0 405.1h0.85v0.85h-0.85zM297.4 412.2h0.85v0.85h-0.85zM295.1 406.7h0.85v0.85h-0.85zM299.5 422.9h0.85v0.85h-0.85zM294.8 412.2h0.85v0.85h-0.85zM298.6 397.7h0.85v0.85h-0.85zM297.2 407.0h0.85v0.85h-0.85zM304.1 409.2h0.85v0.85h-0.85zM292.2 409.4h0.85v0.85h-0.85zM297.4 407.7h0.85v0.85h-0.85zM296.2 403.7h0.85v0.85h-0.85zM295.3 414.4h0.85v0.85h-0.85zM307.3 414.0h0.85v0.85h-0.85zM298.0 416.4h0.85v0.85h-0.85zM302.1 418.8h0.85v0.85h-0.85zM302.5 409.9h0.85v0.85h-0.85zM297.9 411.4h0.85v0.85h-0.85zM298.2 411.5h0.85v0.85h-0.85zM292.2 400.0h0.85v0.85h-0.85zM292.8 400.4h0.85v0.85h-0.85zM296.9 410.5h0.85v0.85h-0.85zM287.3 413.9h0.85v0.85h-0.85zM301.3 411.0h0.85v0.85h-0.85zM305.7 419.9h0.85v0.85h-0.85zM289.9 415.7h0.85v0.85h-0.85zM298.9 412.6h0.85v0.85h-0.85zM301.6 406.9h0.85v0.85h-0.85zM293.2 406.4h0.85v0.85h-0.85zM292.3 410.0h0.85v0.85h-0.85zM288.5 405.3h0.85v0.85h-0.85zM299.7 410.1h0.85v0.85h-0.85zM298.6 401.1h0.85v0.85h-0.85zM292.2 407.7h0.85v0.85h-0.85zM296.7 407.6h0.85v0.85h-0.85zM301.6 410.2h0.85v0.85h-0.85zM296.6 410.6h0.85v0.85h-0.85zM300.4 408.1h0.85v0.85h-0.85zM302.7 412.8h0.85v0.85h-0.85zM297.3 410.7h0.85v0.85h-0.85zM299.4 415.6h0.85v0.85h-0.85zM301.7 412.4h0.85v0.85h-0.85zM301.3 411.1h0.85v0.85h-0.85zM303.4 410.4h0.85v0.85h-0.85zM285.1 417.2h0.85v0.85h-0.85zM297.1 404.6h0.85v0.85h-0.85zM295.4 406.1h0.85v0.85h-0.85zM308.1 413.0h0.85v0.85h-0.85zM287.9 413.2h0.85v0.85h-0.85zM294.3 420.1h0.85v0.85h-0.85zM290.7 399.3h0.85v0.85h-0.85zM296.9 408.8h0.85v0.85h-0.85zM294.2 399.8h0.85v0.85h-0.85zM298.8 418.9h0.85v0.85h-0.85zM286.0 416.4h0.85v0.85h-0.85zM293.4 422.2h0.85v0.85h-0.85zM298.9 409.6h0.85v0.85h-0.85zM302.6 413.1h0.85v0.85h-0.85zM293.2 414.1h0.85v0.85h-0.85zM293.7 401.6h0.85v0.85h-0.85zM307.7 408.8h0.85v0.85h-0.85zM293.2 412.2h0.85v0.85h-0.85zM287.9 403.7h0.85v0.85h-0.85zM293.8 407.9h0.85v0.85h-0.85zM296.9 416.1h0.85v0.85h-0.85zM293.9 413.0h0.85v0.85h-0.85zM299.8 405.1h0.85v0.85h-0.85zM297.8 405.8h0.85v0.85h-0.85zM302.4 412.8h0.85v0.85h-0.85zM296.6 403.8h0.85v0.85h-0.85zM297.1 406.7h0.85v0.85h-0.85zM300.4 409.9h0.85v0.85h-0.85zM292.0 415.1h0.85v0.85h-0.85zM300.5 407.5h0.85v0.85h-0.85zM302.9 409.0h0.85v0.85h-0.85zM294.8 411.1h0.85v0.85h-0.85zM292.4 408.3h0.85v0.85h-0.85zM295.6 418.2h0.85v0.85h-0.85zM304.7 409.2h0.85v0.85h-0.85zM305.4 410.3h0.85v0.85h-0.85zM298.6 414.9h0.85v0.85h-0.85zM298.1 422.6h0.85v0.85h-0.85zM297.8 404.5h0.85v0.85h-0.85zM303.7 408.4h0.85v0.85h-0.85zM294.8 395.5h0.85v0.85h-0.85zM302.0 414.6h0.85v0.85h-0.85zM300.9 415.4h0.85v0.85h-0.85zM305.8 410.3h0.85v0.85h-0.85zM301.7 406.8h0.85v0.85h-0.85zM294.6 415.8h0.85v0.85h-0.85zM298.7 403.8h0.85v0.85h-0.85zM298.5 409.6h0.85v0.85h-0.85zM292.0 412.7h0.85v0.85h-0.85zM294.3 402.6h0.85v0.85h-0.85zM290.4 419.3h0.85v0.85h-0.85zM288.2 411.6h0.85v0.85h-0.85zM299.9 413.7h0.85v0.85h-0.85zM289.8 408.9h0.85v0.85h-0.85zM297.3 414.5h0.85v0.85h-0.85zM293.0 404.7h0.85v0.85h-0.85zM302.0 416.0h0.85v0.85h-0.85zM298.5 407.5h0.85v0.85h-0.85zM298.7 411.0h0.85v0.85h-0.85zM301.1 404.3h0.85v0.85h-0.85zM297.1 409.7h0.85v0.85h-0.85zM290.4 411.6h0.85v0.85h-0.85zM296.7 408.4h0.85v0.85h-0.85zM298.7 403.4h0.85v0.85h-0.85zM296.2 412.7h0.85v0.85h-0.85zM298.1 415.9h0.85v0.85h-0.85zM289.9 403.0h0.85v0.85h-0.85zM297.8 412.8h0.85v0.85h-0.85zM308.2 413.6h0.85v0.85h-0.85zM291.7 414.5h0.85v0.85h-0.85zM291.8 403.1h0.85v0.85h-0.85zM310.9 412.1h0.85v0.85h-0.85zM300.4 413.3h0.85v0.85h-0.85zM306.5 411.9h0.85v0.85h-0.85zM303.2 405.4h0.85v0.85h-0.85zM288.8 417.6h0.85v0.85h-0.85zM304.6 413.1h0.85v0.85h-0.85zM297.7 411.3h0.85v0.85h-0.85zM292.7 418.2h0.85v0.85h-0.85zM300.1 413.0h0.85v0.85h-0.85zM298.6 415.7h0.85v0.85h-0.85zM299.3 414.2h0.85v0.85h-0.85zM290.1 413.1h0.85v0.85h-0.85zM308.5 407.9h0.85v0.85h-0.85zM295.8 415.0h0.85v0.85h-0.85zM301.8 413.6h0.85v0.85h-0.85zM287.6 413.0h0.85v0.85h-0.85zM290.0 406.4h0.85v0.85h-0.85zM299.5 409.0h0.85v0.85h-0.85zM301.0 426.2h0.85v0.85h-0.85zM300.8 414.1h0.85v0.85h-0.85zM291.6 407.3h0.85v0.85h-0.85zM290.6 407.8h0.85v0.85h-0.85zM290.5 407.2h0.85v0.85h-0.85zM295.4 405.5h0.85v0.85h-0.85zM288.7 403.7h0.85v0.85h-0.85zM299.0 410.8h0.85v0.85h-0.85zM302.1 415.7h0.85v0.85h-0.85zM294.6 413.9h0.85v0.85h-0.85zM288.6 421.9h0.85v0.85h-0.85zM303.1 409.4h0.85v0.85h-0.85zM290.1 412.4h0.85v0.85h-0.85zM286.2 406.6h0.85v0.85h-0.85zM300.6 410.9h0.85v0.85h-0.85zM293.8 415.3h0.85v0.85h-0.85zM290.8 411.9h0.85v0.85h-0.85zM293.8 406.3h0.85v0.85h-0.85zM299.0 405.5h0.85v0.85h-0.85zM307.0 407.6h0.85v0.85h-0.85zM307.4 405.0h0.85v0.85h-0.85zM299.8 404.5h0.85v0.85h-0.85zM289.1 411.3h0.85v0.85h-0.85zM300.2 404.1h0.85v0.85h-0.85zM303.0 406.5h0.85v0.85h-0.85zM297.2 412.4h0.85v0.85h-0.85zM299.8 401.5h0.85v0.85h-0.85zM305.4 413.3h0.85v0.85h-0.85zM294.2 405.4h0.85v0.85h-0.85zM287.2 403.7h0.85v0.85h-0.85zM299.5 408.8h0.85v0.85h-0.85zM290.3 407.9h0.85v0.85h-0.85zM305.1 408.8h0.85v0.85h-0.85zM293.3 417.3h0.85v0.85h-0.85zM299.0 410.7h0.85v0.85h-0.85zM293.2 402.7h0.85v0.85h-0.85zM290.1 408.1h0.85v0.85h-0.85zM295.3 412.3h0.85v0.85h-0.85zM299.5 411.6h0.85v0.85h-0.85zM297.7 405.5h0.85v0.85h-0.85zM284.6 407.9h0.85v0.85h-0.85zM291.3 407.2h0.85v0.85h-0.85zM295.0 404.3h0.85v0.85h-0.85zM290.4 410.0h0.85v0.85h-0.85zM297.1 407.2h0.85v0.85h-0.85zM299.2 409.4h0.85v0.85h-0.85zM290.9 410.7h0.85v0.85h-0.85zM306.9 407.1h0.85v0.85h-0.85zM302.9 417.4h0.85v0.85h-0.85z" fill="#2f4f9c" fill-opacity="0.6"/>
<path d="M280.6 396.1h0.85v0.85h-0.85zM280.2 404.0h0.85v0.85h-0.85zM271.6 397.9h0.85v0.85h-0.85zM274.4 401.3h0.85v0.85h-0.85zM267.7 409.4h0.85v0.85h-0.85zM271.8 391.0h0.85v0.85h-0.85zM273.4 406.5h0.85v0.85h-0.85zM279.6 393.6h0.85v0.85h-0.85zM275.3 405.3h0.85v0.85h-0.85zM282.9 393.3h0.85v0.85h-0.85zM273.7 398.2h0.85v0.85h-0.85zM267.2 392.2h0.85v0.85h-0.85zM278.0 398.2h0.85v0.85h-0.85zM266.6 405.4h0.85v0.85h-0.85zM273.5 408.9h0.85v0.85h-0.85zM268.8 398.3h0.85v0.85h-0.85zM278.2 396.7h0.85v0.85h-0.85zM266.6 405.1h0.85v0.85h-0.85zM281.8 393.7h0.85v0.85h-0.85zM265.0 385.1h0.85v0.85h-0.85zM268.1 397.4h0.85v0.85h-0.85zM275.0 399.8h0.85v0.85h-0.85zM268.6 400.1h0.85v0.85h-0.85zM268.1 398.2h0.85v0.85h-0.85zM262.0 419.2h0.85v0.85h-0.85zM277.7 395.0h0.85v0.85h-0.85zM269.0 395.2h0.85v0.85h-0.85zM267.0 392.0h0.85v0.85h-0.85zM266.5 405.5h0.85v0.85h-0.85zM272.4 393.4h0.85v0.85h-0.85zM269.6 389.1h0.85v0.85h-0.85zM272.3 398.3h0.85v0.85h-0.85zM278.5 397.0h0.85v0.85h-0.85zM275.8 403.6h0.85v0.85h-0.85zM277.5 384.9h0.85v0.85h-0.85zM264.5 403.6h0.85v0.85h-0.85zM277.3 403.7h0.85v0.85h-0.85zM276.3 398.1h0.85v0.85h-0.85zM272.2 394.4h0.85v0.85h-0.85zM275.2 404.1h0.85v0.85h-0.85zM271.9 397.2h0.85v0.85h-0.85zM273.5 403.3h0.85v0.85h-0.85zM263.8 411.6h0.85v0.85h-0.85zM273.1 400.5h0.85v0.85h-0.85zM275.4 410.0h0.85v0.85h-0.85zM270.2 403.9h0.85v0.85h-0.85zM269.2 393.5h0.85v0.85h-0.85zM259.1 405.7h0.85v0.85h-0.85zM262.1 402.2h0.85v0.85h-0.85zM271.2 391.4h0.85v0.85h-0.85zM270.4 401.7h0.85v0.85h-0.85zM269.7 414.3h0.85v0.85h-0.85zM271.1 407.2h0.85v0.85h-0.85zM267.5 404.4h0.85v0.85h-0.85zM273.9 396.8h0.85v0.85h-0.85zM271.8 399.4h0.85v0.85h-0.85zM271.7 403.3h0.85v0.85h-0.85zM271.9 393.6h0.85v0.85h-0.85zM279.8 388.4h0.85v0.85h-0.85zM265.1 410.7h0.85v0.85h-0.85zM262.4 390.6h0.85v0.85h-0.85zM279.4 388.7h0.85v0.85h-0.85zM290.1 384.5h0.85v0.85h-0.85zM273.8 413.9h0.85v0.85h-0.85zM276.5 399.7h0.85v0.85h-0.85zM276.0 393.8h0.85v0.85h-0.85zM278.5 392.8h0.85v0.85h-0.85zM268.1 407.1h0.85v0.85h-0.85zM268.3 395.5h0.85v0.85h-0.85zM276.4 390.2h0.85v0.85h-0.85zM276.0 404.4h0.85v0.85h-0.85zM265.7 397.3h0.85v0.85h-0.85zM270.5 393.9h0.85v0.85h-0.85zM274.3 394.8h0.85v0.85h-0.85zM278.0 396.2h0.85v0.85h-0.85zM276.3 401.2h0.85v0.85h-0.85zM277.1 397.2h0.85v0.85h-0.85zM273.0 390.6h0.85v0.85h-0.85zM271.9 407.9h0.85v0.85h-0.85zM277.4 413.0h0.85v0.85h-0.85zM273.6 398.8h0.85v0.85h-0.85zM273.7 400.4h0.85v0.85h-0.85zM275.6 409.3h0.85v0.85h-0.85zM270.3 393.5h0.85v0.85h-0.85zM276.9 404.4h0.85v0.85h-0.85zM267.8 408.6h0.85v0.85h-0.85zM271.1 397.3h0.85v0.85h-0.85zM275.4 384.5h0.85v0.85h-0.85zM279.0 392.2h0.85v0.85h-0.85zM271.6 393.5h0.85v0.85h-0.85zM275.3 400.6h0.85v0.85h-0.85zM276.7 387.4h0.85v0.85h-0.85zM275.7 388.8h0.85v0.85h-0.85zM272.3 403.2h0.85v0.85h-0.85zM266.3 415.3h0.85v0.85h-0.85zM272.6 405.3h0.85v0.85h-0.85zM273.1 398.8h0.85v0.85h-0.85zM273.1 409.8h0.85v0.85h-0.85zM263.6 405.9h0.85v0.85h-0.85zM271.5 408.0h0.85v0.85h-0.85zM277.4 391.4h0.85v0.85h-0.85zM262.0 411.9h0.85v0.85h-0.85zM276.9 389.7h0.85v0.85h-0.85zM274.5 397.8h0.85v0.85h-0.85zM270.5 379.9h0.85v0.85h-0.85zM264.5 399.6h0.85v0.85h-0.85zM272.5 398.1h0.85v0.85h-0.85zM271.6 405.0h0.85v0.85h-0.85zM263.9 394.5h0.85v0.85h-0.85zM271.9 389.5h0.85v0.85h-0.85zM270.0 398.2h0.85v0.85h-0.85zM274.9 388.7h0.85v0.85h-0.85zM264.4 414.4h0.85v0.85h-0.85zM272.2 385.7h0.85v0.85h-0.85zM271.5 404.9h0.85v0.85h-0.85zM277.0 392.3h0.85v0.85h-0.85zM278.4 395.6h0.85v0.85h-0.85zM268.9 393.7h0.85v0.85h-0.85zM269.6 405.2h0.85v0.85h-0.85zM274.7 400.8h0.85v0.85h-0.85z" fill="#3b4ea0" fill-opacity="0.5"/>
<path d="M267.2 410.2h0.85v0.85h-0.85zM269.6 394.1h0.85v0.85h-0.85zM257.1 416.3h0.85v0.85h-0.85zM259.6 404.7h0.85v0.85h-0.85zM264.5 403.4h0.85v0.85h-0.85zM260.0 423.7h0.85v0.85h-0.85zM253.5 417.0h0.85v0.85h-0.85zM272.1 410.3h0.85v0.85h-0.85zM262.7 416.7h0.85v0.85h-0.85zM272.5 396.9h0.85v0.85h-0.85zM264.6 406.8h0.85v0.85h-0.85zM265.7 410.8h0.85v0.85h-0.85zM267.1 404.6h0.85v0.85h-0.85zM265.3 401.5h0.85v0.85h-0.85zM261.9 406.9h0.85v0.85h-0.85zM265.5 396.0h0.85v0.85h-0.85zM269.8 408.2h0.85v0.85h-0.85zM257.2 420.0h0.85v0.85h-0.85zM260.5 413.9h0.85v0.85h-0.85zM263.5 411.5h0.85v0.85h-0.85zM265.6 402.6h0.85v0.85h-0.85zM260.6 430.9h0.85v0.85h-0.85zM255.9 408.3h0.85v0.85h-0.85zM267.4 397.6h0.85v0.85h-0.85zM255.4 431.5h0.85v0.85h-0.85zM259.1 431.2h0.85v0.85h-0.85zM265.8 409.9h0.85v0.85h-0.85zM264.6 416.0h0.85v0.85h-0.85zM267.4 414.2h0.85v0.85h-0.85zM264.2 410.8h0.85v0.85h-0.85zM267.4 418.4h0.85v0.85h-0.85zM261.5 401.3h0.85v0.85h-0.85zM266.2 402.2h0.85v0.85h-0.85zM264.3 398.2h0.85v0.85h-0.85zM262.3 413.3h0.85v0.85h-0.85zM267.5 409.5h0.85v0.85h-0.85zM271.5 409.1h0.85v0.85h-0.85zM273.6 421.5h0.85v0.85h-0.85zM266.6 403.7h0.85v0.85h-0.85zM254.2 405.5h0.85v0.85h-0.85zM261.3 429.8h0.85v0.85h-0.85zM255.8 428.7h0.85v0.85h-0.85zM261.9 416.5h0.85v0.85h-0.85zM254.7 408.9h0.85v0.85h-0.85zM261.6 416.0h0.85v0.85h-0.85zM266.3 396.4h0.85v0.85h-0.85zM266.2 416.9h0.85v0.85h-0.85zM264.4 420.1h0.85v0.85h-0.85zM268.0 409.2h0.85v0.85h-0.85zM261.6 393.0h0.85v0.85h-0.85zM267.6 417.3h0.85v0.85h-0.85zM265.1 404.1h0.85v0.85h-0.85zM264.1 409.1h0.85v0.85h-0.85zM264.0 401.0h0.85v0.85h-0.85zM271.3 412.5h0.85v0.85h-0.85zM264.1 394.3h0.85v0.85h-0.85zM260.2 416.2h0.85v0.85h-0.85zM267.1 406.9h0.85v0.85h-0.85zM264.7 405.5h0.85v0.85h-0.85zM257.8 422.3h0.85v0.85h-0.85zM261.1 435.9h0.85v0.85h-0.85zM261.5 406.9h0.85v0.85h-0.85zM267.6 406.6h0.85v0.85h-0.85zM260.7 397.7h0.85v0.85h-0.85zM263.8 412.6h0.85v0.85h-0.85zM261.9 419.6h0.85v0.85h-0.85zM267.0 412.9h0.85v0.85h-0.85zM264.5 406.1h0.85v0.85h-0.85zM264.4 419.1h0.85v0.85h-0.85zM263.4 413.7h0.85v0.85h-0.85zM265.3 393.3h0.85v0.85h-0.85zM259.1 416.6h0.85v0.85h-0.85zM262.9 426.3h0.85v0.85h-0.85zM262.7 418.2h0.85v0.85h-0.85zM267.0 420.3h0.85v0.85h-0.85zM262.2 406.5h0.85v0.85h-0.85zM266.2 398.2h0.85v0.85h-0.85zM263.9 420.2h0.85v0.85h-0.85zM258.9 430.0h0.85v0.85h-0.85zM263.3 406.4h0.85v0.85h-0.85zM264.4 401.0h0.85v0.85h-0.85zM265.5 409.3h0.85v0.85h-0.85zM268.9 416.3h0.85v0.85h-0.85zM266.3 406.7h0.85v0.85h-0.85zM259.1 407.0h0.85v0.85h-0.85zM259.3 418.7h0.85v0.85h-0.85zM261.0 426.9h0.85v0.85h-0.85zM265.2 418.3h0.85v0.85h-0.85zM264.5 411.2h0.85v0.85h-0.85zM264.7 419.2h0.85v0.85h-0.85zM260.6 413.7h0.85v0.85h-0.85zM273.5 409.3h0.85v0.85h-0.85zM264.3 401.1h0.85v0.85h-0.85zM256.8 420.9h0.85v0.85h-0.85zM263.7 412.1h0.85v0.85h-0.85zM266.2 437.1h0.85v0.85h-0.85zM259.0 419.8h0.85v0.85h-0.85zM265.5 413.5h0.85v0.85h-0.85zM265.7 408.8h0.85v0.85h-0.85zM268.6 416.4h0.85v0.85h-0.85zM263.1 422.6h0.85v0.85h-0.85zM266.4 414.3h0.85v0.85h-0.85zM262.1 428.1h0.85v0.85h-0.85zM266.0 408.1h0.85v0.85h-0.85zM261.5 404.6h0.85v0.85h-0.85zM260.1 409.4h0.85v0.85h-0.85zM268.4 386.7h0.85v0.85h-0.85zM263.0 415.9h0.85v0.85h-0.85zM266.2 398.6h0.85v0.85h-0.85zM269.7 402.0h0.85v0.85h-0.85zM261.5 396.4h0.85v0.85h-0.85zM262.3 419.5h0.85v0.85h-0.85zM267.8 411.8h0.85v0.85h-0.85zM260.9 401.0h0.85v0.85h-0.85zM261.1 406.4h0.85v0.85h-0.85zM257.5 409.0h0.85v0.85h-0.85zM266.6 407.6h0.85v0.85h-0.85zM267.3 398.9h0.85v0.85h-0.85zM259.9 401.1h0.85v0.85h-0.85zM266.3 420.7h0.85v0.85h-0.85zM260.3 421.6h0.85v0.85h-0.85zM260.2 425.1h0.85v0.85h-0.85zM266.5 404.2h0.85v0.85h-0.85zM268.2 400.8h0.85v0.85h-0.85zM263.2 392.5h0.85v0.85h-0.85zM265.0 408.4h0.85v0.85h-0.85zM264.4 404.3h0.85v0.85h-0.85zM269.8 405.0h0.85v0.85h-0.85zM259.3 421.9h0.85v0.85h-0.85zM268.5 413.3h0.85v0.85h-0.85zM258.8 401.3h0.85v0.85h-0.85zM266.1 409.3h0.85v0.85h-0.85zM271.9 394.8h0.85v0.85h-0.85zM267.5 402.4h0.85v0.85h-0.85zM268.8 408.7h0.85v0.85h-0.85zM268.8 402.3h0.85v0.85h-0.85zM260.9 395.9h0.85v0.85h-0.85zM263.6 397.3h0.85v0.85h-0.85zM266.0 424.0h0.85v0.85h-0.85zM266.8 397.7h0.85v0.85h-0.85z" fill="#2a3f9a" fill-opacity="0.5"/>
<ellipse cx="264" cy="408.8" rx="3.6" ry="17.8" transform="rotate(9 264 408.8)" fill="#3a5ab0" fill-opacity="0.75"/>
<ellipse cx="264" cy="408.8" rx="2.95" ry="16.02" transform="rotate(9 264 408.8)" fill="#3a8cc0" fill-opacity="0.9"/>
<ellipse cx="264" cy="408.8" rx="2.23" ry="13.35" transform="rotate(9 264 408.8)" fill="#3cab8c" fill-opacity="0.95"/>
<ellipse cx="264" cy="408.8" rx="1.44" ry="8.9" transform="rotate(9 264 408.8)" fill="#7cbc48" fill-opacity="0.95"/>
<ellipse cx="264" cy="408.8" rx="0.72" ry="3.92" transform="rotate(9 264 408.8)" fill="#d8cc38" fill-opacity="0.9"/>
<rect x="246.5" y="365.8" width="95.5" height="93" fill="none" stroke="#8c8c8c" stroke-width="1" />
<rect x="277.3" y="378" width="63.7" height="55.8" fill="none" stroke="#333333" stroke-width="1.1" />
<line x1="244.2" y1="376.5" x2="246.5" y2="376.5" stroke="#231f20" stroke-width="0.9" />
<line x1="244.2" y1="404.3" x2="246.5" y2="404.3" stroke="#231f20" stroke-width="0.9" />
<line x1="244.2" y1="433.3" x2="246.5" y2="433.3" stroke="#231f20" stroke-width="0.9" />
<line x1="244.2" y1="449.5" x2="246.5" y2="449.5" stroke="#231f20" stroke-width="0.9" />
<line x1="245.1" y1="424.57" x2="246.5" y2="424.57" stroke="#231f20" stroke-width="0.5" />
<line x1="245.1" y1="395.93" x2="246.5" y2="395.93" stroke="#231f20" stroke-width="0.5" />
<line x1="245.1" y1="419.46" x2="246.5" y2="419.46" stroke="#231f20" stroke-width="0.5" />
<line x1="245.1" y1="391.04" x2="246.5" y2="391.04" stroke="#231f20" stroke-width="0.5" />
<line x1="245.1" y1="415.84" x2="246.5" y2="415.84" stroke="#231f20" stroke-width="0.5" />
<line x1="245.1" y1="387.56" x2="246.5" y2="387.56" stroke="#231f20" stroke-width="0.5" />
<line x1="245.1" y1="413.03" x2="246.5" y2="413.03" stroke="#231f20" stroke-width="0.5" />
<line x1="245.1" y1="384.87" x2="246.5" y2="384.87" stroke="#231f20" stroke-width="0.5" />
<line x1="245.1" y1="410.73" x2="246.5" y2="410.73" stroke="#231f20" stroke-width="0.5" />
<line x1="245.1" y1="382.67" x2="246.5" y2="382.67" stroke="#231f20" stroke-width="0.5" />
<line x1="245.1" y1="408.79" x2="246.5" y2="408.79" stroke="#231f20" stroke-width="0.5" />
<line x1="245.1" y1="380.81" x2="246.5" y2="380.81" stroke="#231f20" stroke-width="0.5" />
<line x1="245.1" y1="407.11" x2="246.5" y2="407.11" stroke="#231f20" stroke-width="0.5" />
<line x1="245.1" y1="379.19" x2="246.5" y2="379.19" stroke="#231f20" stroke-width="0.5" />
<line x1="245.1" y1="405.63" x2="246.5" y2="405.63" stroke="#231f20" stroke-width="0.5" />
<line x1="245.1" y1="377.77" x2="246.5" y2="377.77" stroke="#231f20" stroke-width="0.5" />
<rect x="243.9" y="446.9" width="2.4" height="4.2" fill="#231f20" />
<text x="242.1" y="379.6" font-size="9" text-anchor="end">10<tspan font-size="6.2" dy="-3.5">5</tspan></text>
<text x="242.1" y="407.4" font-size="9" text-anchor="end">10<tspan font-size="6.2" dy="-3.5">4</tspan></text>
<text x="242.1" y="436.4" font-size="9" text-anchor="end">10<tspan font-size="6.2" dy="-3.5">3</tspan></text>
<text x="242.1" y="452.6" font-size="9" text-anchor="end">0</text>
<line x1="261.9" y1="458.8" x2="261.9" y2="461.2" stroke="#231f20" stroke-width="0.9" />
<line x1="291" y1="458.8" x2="291" y2="461.2" stroke="#231f20" stroke-width="0.9" />
<line x1="313.9" y1="458.8" x2="313.9" y2="461.2" stroke="#231f20" stroke-width="0.9" />
<line x1="334.1" y1="458.8" x2="334.1" y2="461.2" stroke="#231f20" stroke-width="0.9" />
<line x1="297.89" y1="458.8" x2="297.89" y2="460.3" stroke="#231f20" stroke-width="0.55" />
<line x1="319.98" y1="458.8" x2="319.98" y2="460.3" stroke="#231f20" stroke-width="0.55" />
<line x1="301.93" y1="458.8" x2="301.93" y2="460.3" stroke="#231f20" stroke-width="0.55" />
<line x1="323.54" y1="458.8" x2="323.54" y2="460.3" stroke="#231f20" stroke-width="0.55" />
<line x1="304.79" y1="458.8" x2="304.79" y2="460.3" stroke="#231f20" stroke-width="0.55" />
<line x1="326.06" y1="458.8" x2="326.06" y2="460.3" stroke="#231f20" stroke-width="0.55" />
<line x1="307.01" y1="458.8" x2="307.01" y2="460.3" stroke="#231f20" stroke-width="0.55" />
<line x1="328.02" y1="458.8" x2="328.02" y2="460.3" stroke="#231f20" stroke-width="0.55" />
<line x1="308.82" y1="458.8" x2="308.82" y2="460.3" stroke="#231f20" stroke-width="0.55" />
<line x1="329.62" y1="458.8" x2="329.62" y2="460.3" stroke="#231f20" stroke-width="0.55" />
<line x1="310.35" y1="458.8" x2="310.35" y2="460.3" stroke="#231f20" stroke-width="0.55" />
<line x1="330.97" y1="458.8" x2="330.97" y2="460.3" stroke="#231f20" stroke-width="0.55" />
<line x1="311.68" y1="458.8" x2="311.68" y2="460.3" stroke="#231f20" stroke-width="0.55" />
<line x1="332.14" y1="458.8" x2="332.14" y2="460.3" stroke="#231f20" stroke-width="0.55" />
<line x1="312.85" y1="458.8" x2="312.85" y2="460.3" stroke="#231f20" stroke-width="0.55" />
<line x1="333.18" y1="458.8" x2="333.18" y2="460.3" stroke="#231f20" stroke-width="0.55" />
<line x1="264.81" y1="458.8" x2="264.81" y2="460.3" stroke="#231f20" stroke-width="0.55" />
<line x1="267.72" y1="458.8" x2="267.72" y2="460.3" stroke="#231f20" stroke-width="0.55" />
<line x1="270.63" y1="458.8" x2="270.63" y2="460.3" stroke="#231f20" stroke-width="0.55" />
<line x1="273.54" y1="458.8" x2="273.54" y2="460.3" stroke="#231f20" stroke-width="0.55" />
<line x1="276.45" y1="458.8" x2="276.45" y2="460.3" stroke="#231f20" stroke-width="0.55" />
<line x1="279.36" y1="458.8" x2="279.36" y2="460.3" stroke="#231f20" stroke-width="0.55" />
<line x1="282.27" y1="458.8" x2="282.27" y2="460.3" stroke="#231f20" stroke-width="0.55" />
<line x1="285.18" y1="458.8" x2="285.18" y2="460.3" stroke="#231f20" stroke-width="0.55" />
<line x1="288.09" y1="458.8" x2="288.09" y2="460.3" stroke="#231f20" stroke-width="0.55" />
<rect x="258.9" y="458.8" width="5.5" height="2.2" fill="#231f20" />
<text x="262.1" y="471" font-size="8.6" text-anchor="middle">0</text>
<text x="290.8" y="471" font-size="8.6" text-anchor="middle">10<tspan font-size="6.2" dy="-3.5">3</tspan></text>
<text x="311.7" y="471" font-size="8.6" text-anchor="middle">10<tspan font-size="6.2" dy="-3.5">4</tspan></text>
<text x="331.9" y="471" font-size="8.6" text-anchor="middle">10<tspan font-size="6.2" dy="-3.5">5</tspan></text>
<path d="M402.3 405.9h0.85v0.85h-0.85zM411.7 411.9h0.85v0.85h-0.85zM405.9 407.6h0.85v0.85h-0.85zM390.9 405.4h0.85v0.85h-0.85zM396.3 412.2h0.85v0.85h-0.85zM403.6 405.2h0.85v0.85h-0.85zM400.7 419.4h0.85v0.85h-0.85zM397.2 404.5h0.85v0.85h-0.85zM401.6 405.8h0.85v0.85h-0.85zM400.4 413.2h0.85v0.85h-0.85zM413.4 399.3h0.85v0.85h-0.85zM402.9 410.2h0.85v0.85h-0.85zM402.5 408.9h0.85v0.85h-0.85zM401.0 416.0h0.85v0.85h-0.85zM400.2 409.2h0.85v0.85h-0.85zM403.0 410.6h0.85v0.85h-0.85zM402.0 416.0h0.85v0.85h-0.85zM402.9 411.0h0.85v0.85h-0.85zM402.7 404.0h0.85v0.85h-0.85zM398.0 403.7h0.85v0.85h-0.85zM404.2 405.7h0.85v0.85h-0.85zM396.6 411.4h0.85v0.85h-0.85zM406.2 399.4h0.85v0.85h-0.85zM413.1 410.2h0.85v0.85h-0.85zM402.4 416.4h0.85v0.85h-0.85zM403.4 406.4h0.85v0.85h-0.85zM416.2 403.6h0.85v0.85h-0.85zM402.4 415.1h0.85v0.85h-0.85zM396.6 409.4h0.85v0.85h-0.85zM405.3 424.4h0.85v0.85h-0.85zM397.6 409.7h0.85v0.85h-0.85zM407.0 410.5h0.85v0.85h-0.85zM395.8 412.4h0.85v0.85h-0.85zM403.6 412.7h0.85v0.85h-0.85zM409.8 416.1h0.85v0.85h-0.85zM405.4 411.9h0.85v0.85h-0.85zM396.4 409.2h0.85v0.85h-0.85zM404.3 407.6h0.85v0.85h-0.85zM403.6 405.0h0.85v0.85h-0.85zM412.2 422.9h0.85v0.85h-0.85zM400.7 412.4h0.85v0.85h-0.85zM401.6 417.6h0.85v0.85h-0.85zM405.6 410.5h0.85v0.85h-0.85zM401.7 410.8h0.85v0.85h-0.85zM397.0 414.1h0.85v0.85h-0.85zM398.7 413.2h0.85v0.85h-0.85zM403.8 416.6h0.85v0.85h-0.85zM402.9 416.1h0.85v0.85h-0.85zM397.5 413.7h0.85v0.85h-0.85zM401.7 411.2h0.85v0.85h-0.85zM403.4 415.6h0.85v0.85h-0.85zM390.9 411.9h0.85v0.85h-0.85zM394.0 417.2h0.85v0.85h-0.85zM391.2 404.0h0.85v0.85h-0.85zM393.0 419.8h0.85v0.85h-0.85zM395.3 410.7h0.85v0.85h-0.85zM399.8 399.2h0.85v0.85h-0.85zM401.0 414.0h0.85v0.85h-0.85zM401.9 415.6h0.85v0.85h-0.85zM400.8 410.0h0.85v0.85h-0.85zM400.7 412.1h0.85v0.85h-0.85zM414.4 412.2h0.85v0.85h-0.85zM404.2 406.3h0.85v0.85h-0.85zM398.5 418.8h0.85v0.85h-0.85zM396.3 404.5h0.85v0.85h-0.85zM402.4 407.4h0.85v0.85h-0.85zM414.7 395.8h0.85v0.85h-0.85zM405.2 414.3h0.85v0.85h-0.85zM396.3 406.1h0.85v0.85h-0.85zM405.6 419.8h0.85v0.85h-0.85zM397.5 400.5h0.85v0.85h-0.85zM408.8 419.1h0.85v0.85h-0.85zM401.0 396.7h0.85v0.85h-0.85zM411.7 408.8h0.85v0.85h-0.85zM409.7 409.7h0.85v0.85h-0.85zM400.7 407.3h0.85v0.85h-0.85zM411.8 418.6h0.85v0.85h-0.85zM390.2 404.4h0.85v0.85h-0.85zM413.7 407.8h0.85v0.85h-0.85zM394.8 410.0h0.85v0.85h-0.85zM402.3 409.4h0.85v0.85h-0.85zM400.1 408.1h0.85v0.85h-0.85zM400.3 412.0h0.85v0.85h-0.85zM398.1 408.3h0.85v0.85h-0.85zM402.1 417.8h0.85v0.85h-0.85zM405.2 409.3h0.85v0.85h-0.85zM406.2 412.4h0.85v0.85h-0.85zM409.5 413.0h0.85v0.85h-0.85zM413.8 418.1h0.85v0.85h-0.85zM402.8 407.5h0.85v0.85h-0.85zM408.3 413.1h0.85v0.85h-0.85zM402.4 401.1h0.85v0.85h-0.85zM392.0 412.1h0.85v0.85h-0.85zM407.6 414.8h0.85v0.85h-0.85zM395.3 416.2h0.85v0.85h-0.85zM399.8 412.3h0.85v0.85h-0.85zM405.5 405.2h0.85v0.85h-0.85zM399.5 397.6h0.85v0.85h-0.85zM397.5 399.2h0.85v0.85h-0.85zM405.6 410.4h0.85v0.85h-0.85zM408.5 412.1h0.85v0.85h-0.85zM399.2 412.1h0.85v0.85h-0.85zM400.7 413.7h0.85v0.85h-0.85zM404.9 404.1h0.85v0.85h-0.85zM403.0 410.3h0.85v0.85h-0.85zM401.2 415.4h0.85v0.85h-0.85zM413.3 407.8h0.85v0.85h-0.85zM400.9 396.5h0.85v0.85h-0.85zM402.2 407.4h0.85v0.85h-0.85zM390.0 411.7h0.85v0.85h-0.85zM406.5 405.6h0.85v0.85h-0.85zM400.8 404.2h0.85v0.85h-0.85zM407.6 400.9h0.85v0.85h-0.85zM401.1 421.7h0.85v0.85h-0.85zM403.3 412.8h0.85v0.85h-0.85zM402.1 403.0h0.85v0.85h-0.85zM402.8 412.4h0.85v0.85h-0.85zM396.9 412.0h0.85v0.85h-0.85zM410.5 416.4h0.85v0.85h-0.85zM393.5 404.1h0.85v0.85h-0.85zM393.3 416.4h0.85v0.85h-0.85zM406.7 414.2h0.85v0.85h-0.85zM397.7 403.0h0.85v0.85h-0.85zM403.5 410.6h0.85v0.85h-0.85zM397.9 410.9h0.85v0.85h-0.85zM406.9 411.4h0.85v0.85h-0.85zM396.8 397.3h0.85v0.85h-0.85zM401.4 411.0h0.85v0.85h-0.85zM401.4 407.4h0.85v0.85h-0.85zM398.9 414.3h0.85v0.85h-0.85zM402.7 410.7h0.85v0.85h-0.85zM397.2 406.3h0.85v0.85h-0.85zM404.0 404.0h0.85v0.85h-0.85zM395.4 408.0h0.85v0.85h-0.85zM410.2 411.1h0.85v0.85h-0.85zM411.8 409.2h0.85v0.85h-0.85zM401.1 401.6h0.85v0.85h-0.85zM399.5 418.6h0.85v0.85h-0.85zM405.0 414.4h0.85v0.85h-0.85zM407.2 409.9h0.85v0.85h-0.85zM401.8 410.7h0.85v0.85h-0.85zM407.0 412.7h0.85v0.85h-0.85zM406.0 410.9h0.85v0.85h-0.85zM398.4 408.4h0.85v0.85h-0.85zM397.4 416.0h0.85v0.85h-0.85zM390.4 408.7h0.85v0.85h-0.85zM417.3 408.0h0.85v0.85h-0.85zM396.2 409.9h0.85v0.85h-0.85zM410.7 409.0h0.85v0.85h-0.85zM406.7 410.6h0.85v0.85h-0.85zM400.8 428.9h0.85v0.85h-0.85zM403.4 406.8h0.85v0.85h-0.85zM400.1 412.3h0.85v0.85h-0.85zM405.5 414.6h0.85v0.85h-0.85zM403.8 401.4h0.85v0.85h-0.85zM406.2 408.1h0.85v0.85h-0.85zM401.3 401.1h0.85v0.85h-0.85zM399.6 405.6h0.85v0.85h-0.85zM402.8 401.3h0.85v0.85h-0.85zM403.3 410.7h0.85v0.85h-0.85zM396.3 406.3h0.85v0.85h-0.85zM397.9 415.4h0.85v0.85h-0.85zM387.8 407.9h0.85v0.85h-0.85zM393.0 407.4h0.85v0.85h-0.85zM408.1 406.2h0.85v0.85h-0.85zM403.8 404.9h0.85v0.85h-0.85zM414.6 415.5h0.85v0.85h-0.85zM409.8 402.0h0.85v0.85h-0.85zM396.4 416.5h0.85v0.85h-0.85zM401.8 408.5h0.85v0.85h-0.85zM405.0 402.5h0.85v0.85h-0.85zM407.6 410.1h0.85v0.85h-0.85zM405.9 406.0h0.85v0.85h-0.85zM406.1 405.8h0.85v0.85h-0.85zM408.7 416.8h0.85v0.85h-0.85zM408.5 413.1h0.85v0.85h-0.85zM406.8 393.8h0.85v0.85h-0.85zM408.0 408.4h0.85v0.85h-0.85zM403.6 408.3h0.85v0.85h-0.85zM394.7 406.8h0.85v0.85h-0.85zM407.0 418.5h0.85v0.85h-0.85zM399.3 404.6h0.85v0.85h-0.85zM411.7 404.7h0.85v0.85h-0.85zM415.4 410.3h0.85v0.85h-0.85zM397.7 415.9h0.85v0.85h-0.85zM413.2 401.4h0.85v0.85h-0.85zM412.4 408.3h0.85v0.85h-0.85zM411.9 407.7h0.85v0.85h-0.85zM393.5 413.0h0.85v0.85h-0.85zM408.6 422.6h0.85v0.85h-0.85zM413.3 414.2h0.85v0.85h-0.85zM401.6 406.9h0.85v0.85h-0.85zM401.2 405.0h0.85v0.85h-0.85zM401.4 394.7h0.85v0.85h-0.85zM404.1 409.8h0.85v0.85h-0.85zM418.4 414.6h0.85v0.85h-0.85zM400.1 413.4h0.85v0.85h-0.85zM395.6 406.4h0.85v0.85h-0.85zM391.8 418.6h0.85v0.85h-0.85zM406.6 402.9h0.85v0.85h-0.85zM402.6 415.7h0.85v0.85h-0.85zM406.0 412.3h0.85v0.85h-0.85zM397.9 406.2h0.85v0.85h-0.85zM403.6 415.5h0.85v0.85h-0.85zM398.0 403.3h0.85v0.85h-0.85zM409.9 404.4h0.85v0.85h-0.85zM409.5 411.5h0.85v0.85h-0.85zM408.3 420.5h0.85v0.85h-0.85zM407.1 414.7h0.85v0.85h-0.85zM397.5 405.8h0.85v0.85h-0.85zM406.9 419.2h0.85v0.85h-0.85zM411.4 423.9h0.85v0.85h-0.85zM404.9 411.2h0.85v0.85h-0.85zM409.0 410.1h0.85v0.85h-0.85zM402.6 403.7h0.85v0.85h-0.85zM408.9 403.6h0.85v0.85h-0.85zM406.1 401.5h0.85v0.85h-0.85zM409.6 403.8h0.85v0.85h-0.85zM408.1 400.5h0.85v0.85h-0.85zM400.4 417.1h0.85v0.85h-0.85z" fill="#3a45a0" fill-opacity="0.5"/>
<path d="M411.6 408.5h0.85v0.85h-0.85zM414.2 391.8h0.85v0.85h-0.85zM420.5 411.0h0.85v0.85h-0.85zM409.1 412.0h0.85v0.85h-0.85zM411.6 401.0h0.85v0.85h-0.85zM418.1 403.2h0.85v0.85h-0.85zM436.3 397.1h0.85v0.85h-0.85zM423.9 414.9h0.85v0.85h-0.85zM402.2 395.9h0.85v0.85h-0.85zM422.5 404.6h0.85v0.85h-0.85zM421.1 416.0h0.85v0.85h-0.85zM415.0 400.6h0.85v0.85h-0.85zM396.2 409.4h0.85v0.85h-0.85zM410.6 410.2h0.85v0.85h-0.85zM419.9 398.3h0.85v0.85h-0.85zM431.8 415.6h0.85v0.85h-0.85zM424.8 399.7h0.85v0.85h-0.85zM414.7 404.2h0.85v0.85h-0.85zM414.7 400.1h0.85v0.85h-0.85zM421.5 409.6h0.85v0.85h-0.85zM420.9 404.5h0.85v0.85h-0.85zM428.3 409.3h0.85v0.85h-0.85zM396.1 403.5h0.85v0.85h-0.85zM417.5 414.8h0.85v0.85h-0.85zM415.6 406.2h0.85v0.85h-0.85zM412.7 412.7h0.85v0.85h-0.85zM414.4 403.8h0.85v0.85h-0.85zM412.1 411.9h0.85v0.85h-0.85zM413.7 396.3h0.85v0.85h-0.85zM423.0 403.1h0.85v0.85h-0.85zM420.9 410.6h0.85v0.85h-0.85zM427.6 415.3h0.85v0.85h-0.85zM413.4 406.8h0.85v0.85h-0.85zM407.7 419.7h0.85v0.85h-0.85zM421.5 417.8h0.85v0.85h-0.85zM415.4 393.7h0.85v0.85h-0.85zM430.3 408.7h0.85v0.85h-0.85zM419.1 408.4h0.85v0.85h-0.85zM423.2 411.7h0.85v0.85h-0.85zM405.3 415.6h0.85v0.85h-0.85zM413.8 404.7h0.85v0.85h-0.85zM431.8 414.4h0.85v0.85h-0.85zM415.3 395.0h0.85v0.85h-0.85zM419.3 411.8h0.85v0.85h-0.85zM417.4 399.3h0.85v0.85h-0.85zM411.7 399.2h0.85v0.85h-0.85zM419.7 413.7h0.85v0.85h-0.85zM426.2 402.9h0.85v0.85h-0.85zM419.9 411.9h0.85v0.85h-0.85zM413.9 407.0h0.85v0.85h-0.85z" fill="#8a8dc5" fill-opacity="0.35"/>
<path d="M399.7 413.2h0.85v0.85h-0.85zM396.8 405.7h0.85v0.85h-0.85zM396.1 391.3h0.85v0.85h-0.85zM391.4 423.0h0.85v0.85h-0.85zM398.1 424.0h0.85v0.85h-0.85zM395.4 410.9h0.85v0.85h-0.85zM391.6 408.0h0.85v0.85h-0.85zM396.4 401.7h0.85v0.85h-0.85zM397.8 399.7h0.85v0.85h-0.85zM389.2 398.2h0.85v0.85h-0.85zM390.1 394.3h0.85v0.85h-0.85zM397.2 408.3h0.85v0.85h-0.85zM392.2 422.7h0.85v0.85h-0.85zM398.1 405.1h0.85v0.85h-0.85zM396.9 414.8h0.85v0.85h-0.85zM392.6 414.8h0.85v0.85h-0.85zM390.0 400.8h0.85v0.85h-0.85zM392.0 416.6h0.85v0.85h-0.85zM392.3 408.4h0.85v0.85h-0.85zM394.2 425.8h0.85v0.85h-0.85zM393.8 424.2h0.85v0.85h-0.85zM392.5 406.5h0.85v0.85h-0.85zM394.8 406.9h0.85v0.85h-0.85zM389.2 427.8h0.85v0.85h-0.85zM394.1 399.4h0.85v0.85h-0.85zM392.0 430.2h0.85v0.85h-0.85zM391.7 423.4h0.85v0.85h-0.85zM392.7 404.5h0.85v0.85h-0.85zM391.3 408.1h0.85v0.85h-0.85zM400.9 398.2h0.85v0.85h-0.85zM400.0 399.7h0.85v0.85h-0.85zM391.3 419.0h0.85v0.85h-0.85zM394.9 413.4h0.85v0.85h-0.85zM387.5 413.2h0.85v0.85h-0.85zM386.1 437.5h0.85v0.85h-0.85zM392.3 412.0h0.85v0.85h-0.85zM390.4 404.3h0.85v0.85h-0.85zM387.7 420.1h0.85v0.85h-0.85zM391.6 416.0h0.85v0.85h-0.85zM391.9 404.2h0.85v0.85h-0.85zM398.9 400.0h0.85v0.85h-0.85zM387.0 413.6h0.85v0.85h-0.85zM390.4 404.7h0.85v0.85h-0.85zM397.4 401.5h0.85v0.85h-0.85zM397.1 403.0h0.85v0.85h-0.85zM396.0 425.1h0.85v0.85h-0.85zM392.1 407.5h0.85v0.85h-0.85zM390.4 411.8h0.85v0.85h-0.85zM399.2 394.8h0.85v0.85h-0.85zM398.2 396.0h0.85v0.85h-0.85zM393.3 390.1h0.85v0.85h-0.85zM399.9 411.6h0.85v0.85h-0.85zM395.1 402.7h0.85v0.85h-0.85zM399.9 387.6h0.85v0.85h-0.85zM390.0 434.0h0.85v0.85h-0.85zM392.1 410.0h0.85v0.85h-0.85zM396.7 401.5h0.85v0.85h-0.85zM391.9 420.5h0.85v0.85h-0.85zM393.3 414.1h0.85v0.85h-0.85zM391.7 413.3h0.85v0.85h-0.85zM391.2 425.9h0.85v0.85h-0.85zM396.0 407.7h0.85v0.85h-0.85zM384.5 416.7h0.85v0.85h-0.85zM397.1 400.3h0.85v0.85h-0.85zM388.7 396.7h0.85v0.85h-0.85zM397.9 398.8h0.85v0.85h-0.85zM391.5 412.2h0.85v0.85h-0.85zM397.2 410.3h0.85v0.85h-0.85zM393.8 404.0h0.85v0.85h-0.85zM396.8 422.3h0.85v0.85h-0.85zM395.1 394.7h0.85v0.85h-0.85zM389.9 416.0h0.85v0.85h-0.85zM389.6 419.4h0.85v0.85h-0.85zM394.0 413.3h0.85v0.85h-0.85zM394.6 415.7h0.85v0.85h-0.85zM391.1 406.1h0.85v0.85h-0.85zM402.6 397.9h0.85v0.85h-0.85zM390.2 421.4h0.85v0.85h-0.85zM394.0 401.1h0.85v0.85h-0.85zM388.3 415.2h0.85v0.85h-0.85z" fill="#1f2f8a" fill-opacity="0.5"/>
<ellipse cx="393.5" cy="409.8" rx="4" ry="17.5" transform="rotate(10 393.5 409.8)" fill="#1f2f9a" fill-opacity="0.9"/>
<ellipse cx="393.5" cy="409.8" rx="3.28" ry="14.88" transform="rotate(10 393.5 409.8)" fill="#2f6fc8" fill-opacity="0.95"/>
<ellipse cx="393.5" cy="409.8" rx="2.48" ry="11.38" transform="rotate(10 393.5 409.8)" fill="#2fb0c0" fill-opacity="0.95"/>
<ellipse cx="393.5" cy="409.8" rx="1.8" ry="7.88" transform="rotate(10 393.5 409.8)" fill="#6cc050" fill-opacity="0.95"/>
<ellipse cx="393.5" cy="409.8" rx="1.2" ry="4.9" transform="rotate(10 393.5 409.8)" fill="#e8c030" fill-opacity="0.95"/>
<ellipse cx="393.5" cy="409.8" rx="0.6" ry="2.1" transform="rotate(10 393.5 409.8)" fill="#e88a30" fill-opacity="0.9"/>
<rect x="376" y="365.8" width="93.8" height="93" fill="none" stroke="#8c8c8c" stroke-width="1" />
<rect x="406.5" y="378" width="62.8" height="55.6" fill="none" stroke="#333333" stroke-width="1.1" />
<line x1="373.7" y1="376.5" x2="376" y2="376.5" stroke="#231f20" stroke-width="0.9" />
<line x1="373.7" y1="404.3" x2="376" y2="404.3" stroke="#231f20" stroke-width="0.9" />
<line x1="373.7" y1="433.3" x2="376" y2="433.3" stroke="#231f20" stroke-width="0.9" />
<line x1="373.7" y1="449.5" x2="376" y2="449.5" stroke="#231f20" stroke-width="0.9" />
<line x1="374.6" y1="424.57" x2="376" y2="424.57" stroke="#231f20" stroke-width="0.5" />
<line x1="374.6" y1="395.93" x2="376" y2="395.93" stroke="#231f20" stroke-width="0.5" />
<line x1="374.6" y1="419.46" x2="376" y2="419.46" stroke="#231f20" stroke-width="0.5" />
<line x1="374.6" y1="391.04" x2="376" y2="391.04" stroke="#231f20" stroke-width="0.5" />
<line x1="374.6" y1="415.84" x2="376" y2="415.84" stroke="#231f20" stroke-width="0.5" />
<line x1="374.6" y1="387.56" x2="376" y2="387.56" stroke="#231f20" stroke-width="0.5" />
<line x1="374.6" y1="413.03" x2="376" y2="413.03" stroke="#231f20" stroke-width="0.5" />
<line x1="374.6" y1="384.87" x2="376" y2="384.87" stroke="#231f20" stroke-width="0.5" />
<line x1="374.6" y1="410.73" x2="376" y2="410.73" stroke="#231f20" stroke-width="0.5" />
<line x1="374.6" y1="382.67" x2="376" y2="382.67" stroke="#231f20" stroke-width="0.5" />
<line x1="374.6" y1="408.79" x2="376" y2="408.79" stroke="#231f20" stroke-width="0.5" />
<line x1="374.6" y1="380.81" x2="376" y2="380.81" stroke="#231f20" stroke-width="0.5" />
<line x1="374.6" y1="407.11" x2="376" y2="407.11" stroke="#231f20" stroke-width="0.5" />
<line x1="374.6" y1="379.19" x2="376" y2="379.19" stroke="#231f20" stroke-width="0.5" />
<line x1="374.6" y1="405.63" x2="376" y2="405.63" stroke="#231f20" stroke-width="0.5" />
<line x1="374.6" y1="377.77" x2="376" y2="377.77" stroke="#231f20" stroke-width="0.5" />
<rect x="373.4" y="446.9" width="2.4" height="4.2" fill="#231f20" />
<text x="371.6" y="379.6" font-size="9" text-anchor="end">10<tspan font-size="6.2" dy="-3.5">5</tspan></text>
<text x="371.6" y="407.4" font-size="9" text-anchor="end">10<tspan font-size="6.2" dy="-3.5">4</tspan></text>
<text x="371.6" y="436.4" font-size="9" text-anchor="end">10<tspan font-size="6.2" dy="-3.5">3</tspan></text>
<text x="371.6" y="452.6" font-size="9" text-anchor="end">0</text>
<line x1="391.4" y1="458.8" x2="391.4" y2="461.2" stroke="#231f20" stroke-width="0.9" />
<line x1="420.5" y1="458.8" x2="420.5" y2="461.2" stroke="#231f20" stroke-width="0.9" />
<line x1="443.4" y1="458.8" x2="443.4" y2="461.2" stroke="#231f20" stroke-width="0.9" />
<line x1="463.6" y1="458.8" x2="463.6" y2="461.2" stroke="#231f20" stroke-width="0.9" />
<line x1="427.39" y1="458.8" x2="427.39" y2="460.3" stroke="#231f20" stroke-width="0.55" />
<line x1="449.48" y1="458.8" x2="449.48" y2="460.3" stroke="#231f20" stroke-width="0.55" />
<line x1="431.43" y1="458.8" x2="431.43" y2="460.3" stroke="#231f20" stroke-width="0.55" />
<line x1="453.04" y1="458.8" x2="453.04" y2="460.3" stroke="#231f20" stroke-width="0.55" />
<line x1="434.29" y1="458.8" x2="434.29" y2="460.3" stroke="#231f20" stroke-width="0.55" />
<line x1="455.56" y1="458.8" x2="455.56" y2="460.3" stroke="#231f20" stroke-width="0.55" />
<line x1="436.51" y1="458.8" x2="436.51" y2="460.3" stroke="#231f20" stroke-width="0.55" />
<line x1="457.52" y1="458.8" x2="457.52" y2="460.3" stroke="#231f20" stroke-width="0.55" />
<line x1="438.32" y1="458.8" x2="438.32" y2="460.3" stroke="#231f20" stroke-width="0.55" />
<line x1="459.12" y1="458.8" x2="459.12" y2="460.3" stroke="#231f20" stroke-width="0.55" />
<line x1="439.85" y1="458.8" x2="439.85" y2="460.3" stroke="#231f20" stroke-width="0.55" />
<line x1="460.47" y1="458.8" x2="460.47" y2="460.3" stroke="#231f20" stroke-width="0.55" />
<line x1="441.18" y1="458.8" x2="441.18" y2="460.3" stroke="#231f20" stroke-width="0.55" />
<line x1="461.64" y1="458.8" x2="461.64" y2="460.3" stroke="#231f20" stroke-width="0.55" />
<line x1="442.35" y1="458.8" x2="442.35" y2="460.3" stroke="#231f20" stroke-width="0.55" />
<line x1="462.68" y1="458.8" x2="462.68" y2="460.3" stroke="#231f20" stroke-width="0.55" />
<line x1="394.31" y1="458.8" x2="394.31" y2="460.3" stroke="#231f20" stroke-width="0.55" />
<line x1="397.22" y1="458.8" x2="397.22" y2="460.3" stroke="#231f20" stroke-width="0.55" />
<line x1="400.13" y1="458.8" x2="400.13" y2="460.3" stroke="#231f20" stroke-width="0.55" />
<line x1="403.04" y1="458.8" x2="403.04" y2="460.3" stroke="#231f20" stroke-width="0.55" />
<line x1="405.95" y1="458.8" x2="405.95" y2="460.3" stroke="#231f20" stroke-width="0.55" />
<line x1="408.86" y1="458.8" x2="408.86" y2="460.3" stroke="#231f20" stroke-width="0.55" />
<line x1="411.77" y1="458.8" x2="411.77" y2="460.3" stroke="#231f20" stroke-width="0.55" />
<line x1="414.68" y1="458.8" x2="414.68" y2="460.3" stroke="#231f20" stroke-width="0.55" />
<line x1="417.59" y1="458.8" x2="417.59" y2="460.3" stroke="#231f20" stroke-width="0.55" />
<rect x="388.4" y="458.8" width="5.5" height="2.2" fill="#231f20" />
<text x="391.6" y="471" font-size="8.6" text-anchor="middle">0</text>
<text x="420.3" y="471" font-size="8.6" text-anchor="middle">10<tspan font-size="6.2" dy="-3.5">3</tspan></text>
<text x="441.2" y="471" font-size="8.6" text-anchor="middle">10<tspan font-size="6.2" dy="-3.5">4</tspan></text>
<text x="461.4" y="471" font-size="8.6" text-anchor="middle">10<tspan font-size="6.2" dy="-3.5">5</tspan></text>
<text x="307.8" y="333.3" font-size="8.8" text-anchor="middle">19.38%</text>
<text x="445.4" y="333.3" font-size="8.8" text-anchor="middle">19.9%</text>
<text x="308.3" y="447.6" font-size="8.8" text-anchor="middle">19.9%</text>
<text x="443" y="447.6" font-size="8.8" text-anchor="middle">0.85%</text>
<text x="473.5" y="295.4" font-size="8.2">GFP ratio</text>
<text x="473.5" y="305.7" font-size="8.2" textLength="39.5" lengthAdjust="spacingAndGlyphs">at injection</text>
<text x="473.5" y="410.5" font-size="8.2">GFP ratio</text>
<text x="473.5" y="421.3" font-size="8.2">in BM</text>
<line x1="218.6" y1="482.2" x2="218.6" y2="443" stroke="#231f20" stroke-width="1.1" />
<path d="M215.9,444.6 L218.6,438.9 L221.3,444.6 Z" fill="#231f20"/>
<line x1="218.05" y1="481.7" x2="272" y2="481.7" stroke="#231f20" stroke-width="1.1" />
<path d="M271.2,479 L276.9,481.7 L271.2,484.4 Z" fill="#231f20"/>
<text x="281.2" y="485.8" font-size="10.6" textLength="13.4" lengthAdjust="spacingAndGlyphs" stroke="#231f20" stroke-width="0.3">GFP</text>
<text transform="translate(222,424.8) rotate(-90)" font-size="9.6" stroke="#231f20" stroke-width="0.3" text-anchor="middle" textLength="21" lengthAdjust="spacingAndGlyphs" fill="#231f20">hCD45</text>
<text x="7.5" y="511.5" font-size="11.5" font-weight="bold">E</text>
<line x1="72.2" y1="514.2" x2="72.2" y2="635.8" stroke="#231f20" stroke-width="1.1" />
<line x1="72.2" y1="635.3" x2="163.8" y2="635.3" stroke="#231f20" stroke-width="1.1" />
<line x1="69.6" y1="518.7" x2="72.2" y2="518.7" stroke="#231f20" stroke-width="1" />
<text x="65.9" y="521.8" font-size="9" text-anchor="end">1.5×10<tspan font-size="6.2" dy="-3.5">5</tspan></text>
<line x1="69.6" y1="557.6" x2="72.2" y2="557.6" stroke="#231f20" stroke-width="1" />
<text x="65.9" y="560.7" font-size="9" text-anchor="end">1.0×10<tspan font-size="6.2" dy="-3.5">5</tspan></text>
<line x1="69.6" y1="596.5" x2="72.2" y2="596.5" stroke="#231f20" stroke-width="1" />
<text x="65.9" y="599.6" font-size="9" text-anchor="end">5.0×10<tspan font-size="6.2" dy="-3.5">4</tspan></text>
<line x1="69.6" y1="635.3" x2="72.2" y2="635.3" stroke="#231f20" stroke-width="1" />
<text x="65.9" y="638.4" font-size="9" text-anchor="end">0.0</text>
<line x1="86.5" y1="635.3" x2="86.5" y2="638" stroke="#231f20" stroke-width="1" />
<text x="86.5" y="649.6" font-size="8.6" text-anchor="middle">0</text>
<line x1="107.7" y1="635.3" x2="107.7" y2="638" stroke="#231f20" stroke-width="1" />
<text x="107.7" y="649.6" font-size="8.6" text-anchor="middle">3</text>
<line x1="128.8" y1="635.3" x2="128.8" y2="638" stroke="#231f20" stroke-width="1" />
<text x="128.8" y="649.6" font-size="8.6" text-anchor="middle">4</text>
<line x1="150.4" y1="635.3" x2="150.4" y2="638" stroke="#231f20" stroke-width="1" />
<text x="150.4" y="649.6" font-size="8.6" text-anchor="middle">5</text>
<text x="118" y="509.8" font-size="9.8" text-anchor="middle" textLength="38.2" lengthAdjust="spacingAndGlyphs">UPN371</text>
<text x="118.65" y="663.9" font-size="10.5" stroke="#231f20" stroke-width="0.3" text-anchor="middle" textLength="69.5" lengthAdjust="spacingAndGlyphs" fill="#231f20">Days post transfection</text>
<text transform="translate(27.5,575.5) rotate(-90)" font-size="10.3" stroke="#231f20" stroke-width="0.3" text-anchor="middle" textLength="36" lengthAdjust="spacingAndGlyphs" fill="#231f20">Viable cells</text>
<path d="M86.5,557.6 L107.7,565.4 L128.8,557.6 L150.4,542" fill="none" stroke="#e8a8ae" stroke-width="0.9"/>
<path d="M86.5,557.6 L107.7,573 L128.8,565.4 L150.4,557" fill="none" stroke="#3c9e50" stroke-width="1.0"/>
<path d="M86.5,557.6 L107.7,581 L128.8,589 L150.4,599.6" fill="none" stroke="#5a3060" stroke-width="1.15"/>
<path d="M86.5,557.6 L107.7,561.2 L128.8,549.6 L150.4,548.7" fill="none" stroke="#b0223a" stroke-width="1.3"/>
<circle cx="86.5" cy="557.6" r="2.45" fill="#111"/>
<circle cx="107.7" cy="565.4" r="2.45" fill="#111"/>
<circle cx="128.8" cy="557.6" r="2.45" fill="#111"/>
<circle cx="150.4" cy="542" r="2.45" fill="#111"/>
<circle cx="86.5" cy="557.6" r="2.45" fill="#111"/>
<circle cx="107.7" cy="573" r="2.45" fill="#111"/>
<circle cx="128.8" cy="565.4" r="2.45" fill="#111"/>
<circle cx="150.4" cy="557" r="2.45" fill="#111"/>
<circle cx="86.5" cy="557.6" r="2.45" fill="#111"/>
<circle cx="107.7" cy="581" r="2.45" fill="#111"/>
<circle cx="128.8" cy="589" r="2.45" fill="#111"/>
<circle cx="150.4" cy="599.6" r="2.45" fill="#111"/>
<circle cx="86.5" cy="557.6" r="2.45" fill="#111"/>
<circle cx="107.7" cy="561.2" r="2.45" fill="#111"/>
<circle cx="128.8" cy="549.6" r="2.45" fill="#111"/>
<circle cx="150.4" cy="548.7" r="2.45" fill="#111"/>
<line x1="226.3" y1="513.8" x2="226.3" y2="635.8" stroke="#231f20" stroke-width="1.1" />
<line x1="226.3" y1="635.3" x2="318.6" y2="635.3" stroke="#231f20" stroke-width="1.1" />
<line x1="223.7" y1="518.3" x2="226.3" y2="518.3" stroke="#231f20" stroke-width="1" />
<text x="220" y="521.4" font-size="9" text-anchor="end">3×10<tspan font-size="6.2" dy="-3.5">5</tspan></text>
<line x1="223.7" y1="557.3" x2="226.3" y2="557.3" stroke="#231f20" stroke-width="1" />
<text x="220" y="560.4" font-size="9" text-anchor="end">2×10<tspan font-size="6.2" dy="-3.5">5</tspan></text>
<line x1="223.7" y1="596.2" x2="226.3" y2="596.2" stroke="#231f20" stroke-width="1" />
<text x="220" y="599.3" font-size="9" text-anchor="end">1×10<tspan font-size="6.2" dy="-3.5">5</tspan></text>
<line x1="223.7" y1="635.3" x2="226.3" y2="635.3" stroke="#231f20" stroke-width="1" />
<text x="220" y="638.4" font-size="9" text-anchor="end">0</text>
<line x1="240.3" y1="635.3" x2="240.3" y2="638" stroke="#231f20" stroke-width="1" />
<text x="240.3" y="649.6" font-size="8.6" text-anchor="middle">0</text>
<line x1="261.8" y1="635.3" x2="261.8" y2="638" stroke="#231f20" stroke-width="1" />
<text x="261.8" y="649.6" font-size="8.6" text-anchor="middle">3</text>
<line x1="283.2" y1="635.3" x2="283.2" y2="638" stroke="#231f20" stroke-width="1" />
<text x="283.2" y="649.6" font-size="8.6" text-anchor="middle">4</text>
<line x1="304.5" y1="635.3" x2="304.5" y2="638" stroke="#231f20" stroke-width="1" />
<text x="304.5" y="649.6" font-size="8.6" text-anchor="middle">5</text>
<text x="272" y="509.8" font-size="9.8" text-anchor="middle" textLength="38.2" lengthAdjust="spacingAndGlyphs">UPN529</text>
<text x="272.6" y="663.9" font-size="10.5" stroke="#231f20" stroke-width="0.3" text-anchor="middle" textLength="69.5" lengthAdjust="spacingAndGlyphs" fill="#231f20">Days post transfection</text>
<text transform="translate(190.4,575.5) rotate(-90)" font-size="10.3" stroke="#231f20" stroke-width="0.3" text-anchor="middle" textLength="36" lengthAdjust="spacingAndGlyphs" fill="#231f20">Viable cells</text>
<path d="M240.3,537.8 L261.8,536.9 L283.2,538.3 L304.5,541.6" fill="none" stroke="#e8a8ae" stroke-width="0.9"/>
<path d="M240.3,537.8 L261.8,541 L283.2,542.6 L304.5,546.2" fill="none" stroke="#3c9e50" stroke-width="1.0"/>
<path d="M240.3,537.8 L261.8,546.2 L283.2,566.1 L304.5,570.4" fill="none" stroke="#5a3060" stroke-width="1.15"/>
<path d="M240.3,537.8 L261.8,538.9 L283.2,540.4 L304.5,543.3" fill="none" stroke="#b0223a" stroke-width="1.3"/>
<circle cx="240.3" cy="537.8" r="2.45" fill="#111"/>
<circle cx="261.8" cy="536.9" r="2.45" fill="#111"/>
<circle cx="283.2" cy="538.3" r="2.45" fill="#111"/>
<circle cx="304.5" cy="541.6" r="2.45" fill="#111"/>
<circle cx="240.3" cy="537.8" r="2.45" fill="#111"/>
<circle cx="261.8" cy="541" r="2.45" fill="#111"/>
<circle cx="283.2" cy="542.6" r="2.45" fill="#111"/>
<circle cx="304.5" cy="546.2" r="2.45" fill="#111"/>
<circle cx="240.3" cy="537.8" r="2.45" fill="#111"/>
<circle cx="261.8" cy="546.2" r="2.45" fill="#111"/>
<circle cx="283.2" cy="566.1" r="2.45" fill="#111"/>
<circle cx="304.5" cy="570.4" r="2.45" fill="#111"/>
<circle cx="240.3" cy="537.8" r="2.45" fill="#111"/>
<circle cx="261.8" cy="538.9" r="2.45" fill="#111"/>
<circle cx="283.2" cy="540.4" r="2.45" fill="#111"/>
<circle cx="304.5" cy="543.3" r="2.45" fill="#111"/>
<line x1="381" y1="514.3" x2="381" y2="635.8" stroke="#231f20" stroke-width="1.1" />
<line x1="381" y1="635.3" x2="445.5" y2="635.3" stroke="#231f20" stroke-width="1.1" />
<line x1="378.4" y1="518.8" x2="381" y2="518.8" stroke="#231f20" stroke-width="1" />
<text x="374.7" y="521.9" font-size="9" text-anchor="end">1×10<tspan font-size="6.2" dy="-3.5">5</tspan></text>
<line x1="378.4" y1="542.3" x2="381" y2="542.3" stroke="#231f20" stroke-width="1" />
<text x="374.7" y="545.4" font-size="9" text-anchor="end">8×10<tspan font-size="6.2" dy="-3.5">4</tspan></text>
<line x1="378.4" y1="565.8" x2="381" y2="565.8" stroke="#231f20" stroke-width="1" />
<text x="374.7" y="568.9" font-size="9" text-anchor="end">6×10<tspan font-size="6.2" dy="-3.5">4</tspan></text>
<line x1="378.4" y1="589.2" x2="381" y2="589.2" stroke="#231f20" stroke-width="1" />
<text x="374.7" y="592.3" font-size="9" text-anchor="end">4×10<tspan font-size="6.2" dy="-3.5">4</tspan></text>
<line x1="378.4" y1="612.4" x2="381" y2="612.4" stroke="#231f20" stroke-width="1" />
<text x="374.7" y="615.5" font-size="9" text-anchor="end">2×10<tspan font-size="6.2" dy="-3.5">4</tspan></text>
<line x1="378.4" y1="635.3" x2="381" y2="635.3" stroke="#231f20" stroke-width="1" />
<text x="374.7" y="638.4" font-size="9" text-anchor="end">0</text>
<line x1="400.3" y1="635.3" x2="400.3" y2="638" stroke="#231f20" stroke-width="1" />
<text x="400.3" y="649.6" font-size="8.6" text-anchor="middle">0</text>
<line x1="427.6" y1="635.3" x2="427.6" y2="638" stroke="#231f20" stroke-width="1" />
<text x="427.6" y="649.6" font-size="8.6" text-anchor="middle">3</text>
<text x="413.9" y="509.8" font-size="9.8" text-anchor="middle" textLength="38.2" lengthAdjust="spacingAndGlyphs">UPN592</text>
<text x="413.25" y="663.9" font-size="10.5" stroke="#231f20" stroke-width="0.3" text-anchor="middle" textLength="69.5" lengthAdjust="spacingAndGlyphs" fill="#231f20">Days post transfection</text>
<text transform="translate(343.6,575.5) rotate(-90)" font-size="10.3" stroke="#231f20" stroke-width="0.3" text-anchor="middle" textLength="36" lengthAdjust="spacingAndGlyphs" fill="#231f20">Viable cells</text>
<path d="M400.3,542.3 L427.6,561.2" fill="none" stroke="#e8a8ae" stroke-width="0.9"/>
<path d="M400.3,542.3 L427.6,570.2" fill="none" stroke="#3c9e50" stroke-width="1.0"/>
<path d="M400.3,542.3 L427.6,625" fill="none" stroke="#5a3060" stroke-width="1.15"/>
<path d="M400.3,542.3 L427.6,553.5" fill="none" stroke="#b0223a" stroke-width="1.3"/>
<line x1="427.6" y1="550.5" x2="427.6" y2="556.5" stroke="#231f20" stroke-width="0.9" />
<line x1="425.3" y1="550.5" x2="429.9" y2="550.5" stroke="#231f20" stroke-width="1.1" />
<line x1="425.3" y1="556.5" x2="429.9" y2="556.5" stroke="#231f20" stroke-width="1.1" />
<line x1="427.6" y1="567.2" x2="427.6" y2="573.2" stroke="#231f20" stroke-width="0.9" />
<line x1="425.3" y1="567.2" x2="429.9" y2="567.2" stroke="#231f20" stroke-width="1.1" />
<line x1="425.3" y1="573.2" x2="429.9" y2="573.2" stroke="#231f20" stroke-width="1.1" />
<circle cx="400.3" cy="542.3" r="2.45" fill="#111"/>
<circle cx="427.6" cy="561.2" r="2.45" fill="#111"/>
<circle cx="400.3" cy="542.3" r="2.45" fill="#111"/>
<circle cx="427.6" cy="570.2" r="2.45" fill="#111"/>
<circle cx="400.3" cy="542.3" r="2.45" fill="#111"/>
<circle cx="427.6" cy="625" r="2.45" fill="#111"/>
<circle cx="400.3" cy="542.3" r="2.45" fill="#111"/>
<circle cx="427.6" cy="553.5" r="2.45" fill="#111"/>
<line x1="131.7" y1="675.7" x2="146.2" y2="675.7" stroke="#e8a8ae" stroke-width="1" />
<circle cx="138.9" cy="675.7" r="2.9" fill="#111"/>
<text x="150.9" y="678.2" font-size="8" textLength="104.5" lengthAdjust="spacingAndGlyphs">shRNA CTL A + shRNA CTL B</text>
<line x1="131.7" y1="687.6" x2="146.2" y2="687.6" stroke="#3c9e50" stroke-width="1" />
<circle cx="138.9" cy="687.6" r="2.9" fill="#111"/>
<text x="150.9" y="690.1" font-size="8" textLength="84" lengthAdjust="spacingAndGlyphs">shACLY + shRNA CTL A</text>
<line x1="263" y1="675.7" x2="277.5" y2="675.7" stroke="#b0223a" stroke-width="1" />
<circle cx="270.2" cy="675.7" r="2.9" fill="#111"/>
<text x="282.2" y="678.2" font-size="8" textLength="85.5" lengthAdjust="spacingAndGlyphs">shPTEN + shRNA CTL B</text>
<line x1="263" y1="687.6" x2="277.5" y2="687.6" stroke="#5a3060" stroke-width="1" />
<circle cx="270.2" cy="687.6" r="2.9" fill="#111"/>
<text x="282.2" y="690.1" font-size="8" textLength="101.5" lengthAdjust="spacingAndGlyphs">shRNA PTEN + shRNA ACLY</text>
</svg></body></html>
